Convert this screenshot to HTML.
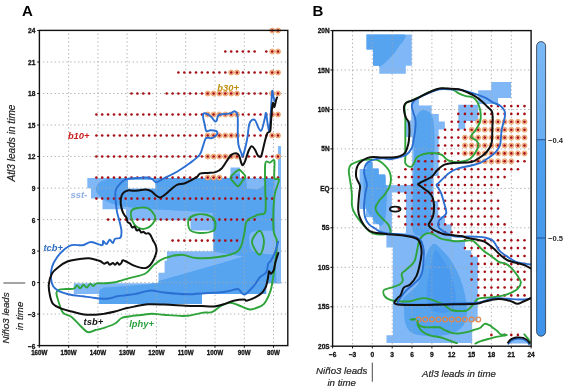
<!DOCTYPE html>
<html><head><meta charset="utf-8"><style>
html,body{margin:0;padding:0;background:#fff;}
svg{display:block;will-change:transform;}
</style></head><body>
<svg width="575" height="392" viewBox="0 0 575 392">
<defs><clipPath id="cA"><rect x="39.4" y="30.4" width="248.4" height="315.2"/></clipPath><clipPath id="cB"><rect x="332.6" y="30.6" width="198.5" height="315.6"/></clipPath></defs>
<clipPath id="cAL"><path d="M87.3,178.0 L230.5,178.0 L230.5,167.4 L240.0,167.4 L240.0,178.0 L278.0,178.0 L278.0,146.3 L281.0,146.3 L281.0,283.3 L266.2,283.3 L266.2,294.1 L202.0,294.1 L202.0,303.9 L98.8,303.9 L98.8,294.1 L73.8,294.1 L73.8,283.3 L158.5,283.3 L158.5,272.7 L164.6,272.7 L164.6,260.5 L167.0,260.5 L167.0,251.2 L213.5,251.2 L213.5,230.6 L190.5,230.6 L190.5,220.3 L126.0,220.3 L126.0,209.3 L102.5,209.3 L102.5,198.6 L91.0,198.6 L91.0,188.2 L87.3,188.2 Z" fill="#000" /></clipPath>
<path d="M87.3,178.0 L230.5,178.0 L230.5,167.4 L240.0,167.4 L240.0,178.0 L278.0,178.0 L278.0,146.3 L281.0,146.3 L281.0,283.3 L266.2,283.3 L266.2,294.1 L202.0,294.1 L202.0,303.9 L98.8,303.9 L98.8,294.1 L73.8,294.1 L73.8,283.3 L158.5,283.3 L158.5,272.7 L164.6,272.7 L164.6,260.5 L167.0,260.5 L167.0,251.2 L213.5,251.2 L213.5,230.6 L190.5,230.6 L190.5,220.3 L126.0,220.3 L126.0,209.3 L102.5,209.3 L102.5,198.6 L91.0,198.6 L91.0,188.2 L87.3,188.2 Z" fill="#80b8f7" />
<g clip-path="url(#cAL)"><path d="M95.7,188.6 C95.8,187.2 96.6,185.7 97.5,184.5 C98.4,183.3 99.4,182.4 101.0,181.5 C102.6,180.6 104.5,179.8 107.0,179.3 C109.5,178.8 110.5,178.9 116.0,178.3 C121.5,177.8 126.0,176.4 140.0,176.0 C154.0,175.6 176.3,176.0 200.0,176.0 C223.7,176.0 268.3,169.5 282.0,176.0 C295.7,182.5 289.0,208.7 282.0,215.0 C275.0,221.3 251.5,214.3 240.0,214.0 C228.5,213.7 220.5,213.4 213.0,213.0 C205.5,212.6 201.3,211.9 195.0,211.5 C188.7,211.1 182.5,210.9 175.0,210.5 C167.5,210.1 157.0,209.8 150.0,209.3 C143.0,208.9 138.3,208.4 133.0,207.8 C127.7,207.2 122.2,206.5 118.0,205.5 C113.8,204.5 110.8,203.3 108.0,202.0 C105.2,200.7 102.8,199.0 101.0,197.5 C99.2,196.0 97.9,194.5 97.0,193.0 C96.1,191.5 95.6,190.0 95.7,188.6 Z" fill="#56a3f0" /><path d="M213.0,205.0 L282.0,205.0 L282.0,310.0 L99.0,310.0 L99.5,290.0 L104.0,287.5 L130.0,285.8 L150.0,284.0 L160.0,280.5 L190.0,272.0 L220.0,263.5 L243.0,256.5 L213.0,251.5 Z" fill="#56a3f0" /><path d="M246.0,178.0 L262.0,178.0 L266.0,184.0 L258.0,189.5 L247.0,188.5 Z" fill="#80b8f7" /><path d="M274.5,146.0 L282.0,146.0 L282.0,284.0 L276.5,284.0 L275.5,250.0 L274.8,200.0 Z" fill="#80b8f7" /><path d="M250.0,234.0 C251.7,230.8 257.7,231.2 262.0,231.0 C266.3,230.8 273.7,229.5 276.0,233.0 C278.3,236.5 277.7,248.5 276.0,252.0 C274.3,255.5 270.0,254.3 266.0,254.0 C262.0,253.7 254.7,253.3 252.0,250.0 C249.3,246.7 248.3,237.2 250.0,234.0 Z" fill="#80b8f7" /></g>
<rect x="128" y="179.8" width="27.3" height="8.8" fill="#fff"/>
<path d="M68.6,33.6 V345 M97.9,33.6 V345 M127.1,33.6 V345 M156.4,33.6 V345 M185.7,33.6 V345 M215.0,33.6 V345 M244.3,33.6 V345 M273.5,33.6 V345 M42.95,62.0 H287 M42.95,93.5 H287 M42.95,125.0 H287 M42.95,156.5 H287 M42.95,188.1 H287 M42.95,219.6 H287 M42.95,251.1 H287 M42.95,282.6 H287 M42.95,314.1 H287" stroke="#a8a8a8" stroke-width="0.9" stroke-dasharray="1.3 2.6" fill="none"/>
<g fill="#f7c6a0" stroke="#e9975c" stroke-width="0.8"><circle cx="272.2" cy="30.5" r="2.5"/><circle cx="278.0" cy="30.5" r="2.5"/><circle cx="272.2" cy="51.5" r="2.5"/><circle cx="278.0" cy="51.5" r="2.5"/><circle cx="231.2" cy="72.5" r="2.5"/><circle cx="237.0" cy="72.5" r="2.5"/><circle cx="272.2" cy="72.5" r="2.5"/><circle cx="278.0" cy="72.5" r="2.5"/><circle cx="207.7" cy="93.5" r="2.5"/><circle cx="213.6" cy="93.5" r="2.5"/><circle cx="219.4" cy="93.5" r="2.5"/><circle cx="225.3" cy="93.5" r="2.5"/><circle cx="231.2" cy="93.5" r="2.5"/><circle cx="237.0" cy="93.5" r="2.5"/><circle cx="272.2" cy="93.5" r="2.5"/><circle cx="278.0" cy="93.5" r="2.5"/><circle cx="207.7" cy="114.5" r="2.5"/><circle cx="213.6" cy="114.5" r="2.5"/><circle cx="219.4" cy="114.5" r="2.5"/><circle cx="225.3" cy="114.5" r="2.5"/><circle cx="231.2" cy="114.5" r="2.5"/><circle cx="237.0" cy="114.5" r="2.5"/><circle cx="272.2" cy="114.5" r="2.5"/><circle cx="278.0" cy="114.5" r="2.5"/><circle cx="207.7" cy="135.5" r="2.5"/><circle cx="213.6" cy="135.5" r="2.5"/><circle cx="219.4" cy="135.5" r="2.5"/><circle cx="225.3" cy="135.5" r="2.5"/><circle cx="231.2" cy="135.5" r="2.5"/><circle cx="237.0" cy="135.5" r="2.5"/><circle cx="272.2" cy="135.5" r="2.5"/><circle cx="278.0" cy="135.5" r="2.5"/><circle cx="207.7" cy="156.5" r="2.5"/><circle cx="213.6" cy="156.5" r="2.5"/><circle cx="219.4" cy="156.5" r="2.5"/><circle cx="225.3" cy="156.5" r="2.5"/><circle cx="231.2" cy="156.5" r="2.5"/><circle cx="237.0" cy="156.5" r="2.5"/><circle cx="278.0" cy="156.5" r="2.5"/><circle cx="207.7" cy="177.6" r="2.5"/><circle cx="213.6" cy="177.6" r="2.5"/><circle cx="219.4" cy="177.6" r="2.5"/></g>
<g fill="#a60c14"><circle cx="272.2" cy="30.5" r="1.3"/><circle cx="278.0" cy="30.5" r="1.3"/><circle cx="225.3" cy="51.5" r="1.3"/><circle cx="231.2" cy="51.5" r="1.3"/><circle cx="237.0" cy="51.5" r="1.3"/><circle cx="242.9" cy="51.5" r="1.3"/><circle cx="248.7" cy="51.5" r="1.3"/><circle cx="254.6" cy="51.5" r="1.3"/><circle cx="266.3" cy="51.5" r="1.3"/><circle cx="272.2" cy="51.5" r="1.3"/><circle cx="278.0" cy="51.5" r="1.3"/><circle cx="178.4" cy="72.5" r="1.3"/><circle cx="184.3" cy="72.5" r="1.3"/><circle cx="190.1" cy="72.5" r="1.3"/><circle cx="196.0" cy="72.5" r="1.3"/><circle cx="201.9" cy="72.5" r="1.3"/><circle cx="207.7" cy="72.5" r="1.3"/><circle cx="213.6" cy="72.5" r="1.3"/><circle cx="219.4" cy="72.5" r="1.3"/><circle cx="225.3" cy="72.5" r="1.3"/><circle cx="231.2" cy="72.5" r="1.3"/><circle cx="237.0" cy="72.5" r="1.3"/><circle cx="242.9" cy="72.5" r="1.3"/><circle cx="248.7" cy="72.5" r="1.3"/><circle cx="254.6" cy="72.5" r="1.3"/><circle cx="260.5" cy="72.5" r="1.3"/><circle cx="266.3" cy="72.5" r="1.3"/><circle cx="272.2" cy="72.5" r="1.3"/><circle cx="278.0" cy="72.5" r="1.3"/><circle cx="131.5" cy="93.5" r="1.3"/><circle cx="137.4" cy="93.5" r="1.3"/><circle cx="143.3" cy="93.5" r="1.3"/><circle cx="149.1" cy="93.5" r="1.3"/><circle cx="166.7" cy="93.5" r="1.3"/><circle cx="172.6" cy="93.5" r="1.3"/><circle cx="178.4" cy="93.5" r="1.3"/><circle cx="184.3" cy="93.5" r="1.3"/><circle cx="190.1" cy="93.5" r="1.3"/><circle cx="196.0" cy="93.5" r="1.3"/><circle cx="201.9" cy="93.5" r="1.3"/><circle cx="207.7" cy="93.5" r="1.3"/><circle cx="213.6" cy="93.5" r="1.3"/><circle cx="219.4" cy="93.5" r="1.3"/><circle cx="225.3" cy="93.5" r="1.3"/><circle cx="231.2" cy="93.5" r="1.3"/><circle cx="237.0" cy="93.5" r="1.3"/><circle cx="242.9" cy="93.5" r="1.3"/><circle cx="248.7" cy="93.5" r="1.3"/><circle cx="254.6" cy="93.5" r="1.3"/><circle cx="260.5" cy="93.5" r="1.3"/><circle cx="266.3" cy="93.5" r="1.3"/><circle cx="272.2" cy="93.5" r="1.3"/><circle cx="278.0" cy="93.5" r="1.3"/><circle cx="96.4" cy="114.5" r="1.3"/><circle cx="102.2" cy="114.5" r="1.3"/><circle cx="108.1" cy="114.5" r="1.3"/><circle cx="114.0" cy="114.5" r="1.3"/><circle cx="119.8" cy="114.5" r="1.3"/><circle cx="125.7" cy="114.5" r="1.3"/><circle cx="131.5" cy="114.5" r="1.3"/><circle cx="137.4" cy="114.5" r="1.3"/><circle cx="143.3" cy="114.5" r="1.3"/><circle cx="149.1" cy="114.5" r="1.3"/><circle cx="155.0" cy="114.5" r="1.3"/><circle cx="160.8" cy="114.5" r="1.3"/><circle cx="166.7" cy="114.5" r="1.3"/><circle cx="172.6" cy="114.5" r="1.3"/><circle cx="178.4" cy="114.5" r="1.3"/><circle cx="184.3" cy="114.5" r="1.3"/><circle cx="190.1" cy="114.5" r="1.3"/><circle cx="196.0" cy="114.5" r="1.3"/><circle cx="201.9" cy="114.5" r="1.3"/><circle cx="207.7" cy="114.5" r="1.3"/><circle cx="213.6" cy="114.5" r="1.3"/><circle cx="219.4" cy="114.5" r="1.3"/><circle cx="225.3" cy="114.5" r="1.3"/><circle cx="231.2" cy="114.5" r="1.3"/><circle cx="237.0" cy="114.5" r="1.3"/><circle cx="242.9" cy="114.5" r="1.3"/><circle cx="248.7" cy="114.5" r="1.3"/><circle cx="254.6" cy="114.5" r="1.3"/><circle cx="260.5" cy="114.5" r="1.3"/><circle cx="266.3" cy="114.5" r="1.3"/><circle cx="272.2" cy="114.5" r="1.3"/><circle cx="278.0" cy="114.5" r="1.3"/><circle cx="96.4" cy="135.5" r="1.3"/><circle cx="102.2" cy="135.5" r="1.3"/><circle cx="108.1" cy="135.5" r="1.3"/><circle cx="114.0" cy="135.5" r="1.3"/><circle cx="119.8" cy="135.5" r="1.3"/><circle cx="125.7" cy="135.5" r="1.3"/><circle cx="131.5" cy="135.5" r="1.3"/><circle cx="137.4" cy="135.5" r="1.3"/><circle cx="143.3" cy="135.5" r="1.3"/><circle cx="149.1" cy="135.5" r="1.3"/><circle cx="155.0" cy="135.5" r="1.3"/><circle cx="160.8" cy="135.5" r="1.3"/><circle cx="166.7" cy="135.5" r="1.3"/><circle cx="172.6" cy="135.5" r="1.3"/><circle cx="178.4" cy="135.5" r="1.3"/><circle cx="184.3" cy="135.5" r="1.3"/><circle cx="190.1" cy="135.5" r="1.3"/><circle cx="196.0" cy="135.5" r="1.3"/><circle cx="201.9" cy="135.5" r="1.3"/><circle cx="207.7" cy="135.5" r="1.3"/><circle cx="213.6" cy="135.5" r="1.3"/><circle cx="219.4" cy="135.5" r="1.3"/><circle cx="225.3" cy="135.5" r="1.3"/><circle cx="231.2" cy="135.5" r="1.3"/><circle cx="237.0" cy="135.5" r="1.3"/><circle cx="242.9" cy="135.5" r="1.3"/><circle cx="248.7" cy="135.5" r="1.3"/><circle cx="254.6" cy="135.5" r="1.3"/><circle cx="260.5" cy="135.5" r="1.3"/><circle cx="266.3" cy="135.5" r="1.3"/><circle cx="272.2" cy="135.5" r="1.3"/><circle cx="278.0" cy="135.5" r="1.3"/><circle cx="96.4" cy="156.5" r="1.3"/><circle cx="102.2" cy="156.5" r="1.3"/><circle cx="108.1" cy="156.5" r="1.3"/><circle cx="114.0" cy="156.5" r="1.3"/><circle cx="119.8" cy="156.5" r="1.3"/><circle cx="125.7" cy="156.5" r="1.3"/><circle cx="131.5" cy="156.5" r="1.3"/><circle cx="137.4" cy="156.5" r="1.3"/><circle cx="143.3" cy="156.5" r="1.3"/><circle cx="149.1" cy="156.5" r="1.3"/><circle cx="155.0" cy="156.5" r="1.3"/><circle cx="160.8" cy="156.5" r="1.3"/><circle cx="166.7" cy="156.5" r="1.3"/><circle cx="172.6" cy="156.5" r="1.3"/><circle cx="178.4" cy="156.5" r="1.3"/><circle cx="184.3" cy="156.5" r="1.3"/><circle cx="190.1" cy="156.5" r="1.3"/><circle cx="196.0" cy="156.5" r="1.3"/><circle cx="201.9" cy="156.5" r="1.3"/><circle cx="207.7" cy="156.5" r="1.3"/><circle cx="213.6" cy="156.5" r="1.3"/><circle cx="219.4" cy="156.5" r="1.3"/><circle cx="225.3" cy="156.5" r="1.3"/><circle cx="231.2" cy="156.5" r="1.3"/><circle cx="237.0" cy="156.5" r="1.3"/><circle cx="242.9" cy="156.5" r="1.3"/><circle cx="248.7" cy="156.5" r="1.3"/><circle cx="254.6" cy="156.5" r="1.3"/><circle cx="260.5" cy="156.5" r="1.3"/><circle cx="266.3" cy="156.5" r="1.3"/><circle cx="272.2" cy="156.5" r="1.3"/><circle cx="278.0" cy="156.5" r="1.3"/><circle cx="96.4" cy="177.6" r="1.3"/><circle cx="102.2" cy="177.6" r="1.3"/><circle cx="108.1" cy="177.6" r="1.3"/><circle cx="114.0" cy="177.6" r="1.3"/><circle cx="119.8" cy="177.6" r="1.3"/><circle cx="125.7" cy="177.6" r="1.3"/><circle cx="131.5" cy="177.6" r="1.3"/><circle cx="137.4" cy="177.6" r="1.3"/><circle cx="143.3" cy="177.6" r="1.3"/><circle cx="149.1" cy="177.6" r="1.3"/><circle cx="155.0" cy="177.6" r="1.3"/><circle cx="160.8" cy="177.6" r="1.3"/><circle cx="166.7" cy="177.6" r="1.3"/><circle cx="172.6" cy="177.6" r="1.3"/><circle cx="178.4" cy="177.6" r="1.3"/><circle cx="184.3" cy="177.6" r="1.3"/><circle cx="190.1" cy="177.6" r="1.3"/><circle cx="196.0" cy="177.6" r="1.3"/><circle cx="201.9" cy="177.6" r="1.3"/><circle cx="207.7" cy="177.6" r="1.3"/><circle cx="213.6" cy="177.6" r="1.3"/><circle cx="219.4" cy="177.6" r="1.3"/><circle cx="225.3" cy="177.6" r="1.3"/><circle cx="231.2" cy="177.6" r="1.3"/><circle cx="237.0" cy="177.6" r="1.3"/><circle cx="242.9" cy="177.6" r="1.3"/><circle cx="248.7" cy="177.6" r="1.3"/><circle cx="254.6" cy="177.6" r="1.3"/><circle cx="260.5" cy="177.6" r="1.3"/><circle cx="266.3" cy="177.6" r="1.3"/><circle cx="272.2" cy="177.6" r="1.3"/><circle cx="278.0" cy="177.6" r="1.3"/><circle cx="96.4" cy="198.6" r="1.3"/><circle cx="102.2" cy="198.6" r="1.3"/><circle cx="108.1" cy="198.6" r="1.3"/><circle cx="114.0" cy="198.6" r="1.3"/><circle cx="119.8" cy="198.6" r="1.3"/><circle cx="125.7" cy="198.6" r="1.3"/><circle cx="131.5" cy="198.6" r="1.3"/><circle cx="137.4" cy="198.6" r="1.3"/><circle cx="143.3" cy="198.6" r="1.3"/><circle cx="149.1" cy="198.6" r="1.3"/><circle cx="155.0" cy="198.6" r="1.3"/><circle cx="160.8" cy="198.6" r="1.3"/><circle cx="166.7" cy="198.6" r="1.3"/><circle cx="172.6" cy="198.6" r="1.3"/><circle cx="178.4" cy="198.6" r="1.3"/><circle cx="184.3" cy="198.6" r="1.3"/><circle cx="190.1" cy="198.6" r="1.3"/><circle cx="196.0" cy="198.6" r="1.3"/><circle cx="201.9" cy="198.6" r="1.3"/><circle cx="207.7" cy="198.6" r="1.3"/><circle cx="213.6" cy="198.6" r="1.3"/><circle cx="219.4" cy="198.6" r="1.3"/><circle cx="225.3" cy="198.6" r="1.3"/><circle cx="231.2" cy="198.6" r="1.3"/><circle cx="237.0" cy="198.6" r="1.3"/><circle cx="242.9" cy="198.6" r="1.3"/><circle cx="248.7" cy="198.6" r="1.3"/><circle cx="254.6" cy="198.6" r="1.3"/><circle cx="260.5" cy="198.6" r="1.3"/><circle cx="266.3" cy="198.6" r="1.3"/><circle cx="272.2" cy="198.6" r="1.3"/><circle cx="108.1" cy="219.6" r="1.3"/><circle cx="114.0" cy="219.6" r="1.3"/><circle cx="119.8" cy="219.6" r="1.3"/><circle cx="125.7" cy="219.6" r="1.3"/><circle cx="131.5" cy="219.6" r="1.3"/><circle cx="137.4" cy="219.6" r="1.3"/><circle cx="143.3" cy="219.6" r="1.3"/><circle cx="149.1" cy="219.6" r="1.3"/><circle cx="155.0" cy="219.6" r="1.3"/><circle cx="160.8" cy="219.6" r="1.3"/><circle cx="166.7" cy="219.6" r="1.3"/><circle cx="172.6" cy="219.6" r="1.3"/><circle cx="178.4" cy="219.6" r="1.3"/><circle cx="184.3" cy="219.6" r="1.3"/><circle cx="190.1" cy="219.6" r="1.3"/><circle cx="196.0" cy="219.6" r="1.3"/><circle cx="201.9" cy="219.6" r="1.3"/><circle cx="207.7" cy="219.6" r="1.3"/><circle cx="213.6" cy="219.6" r="1.3"/><circle cx="219.4" cy="219.6" r="1.3"/><circle cx="225.3" cy="219.6" r="1.3"/><circle cx="231.2" cy="219.6" r="1.3"/><circle cx="237.0" cy="219.6" r="1.3"/><circle cx="242.9" cy="219.6" r="1.3"/><circle cx="248.7" cy="219.6" r="1.3"/><circle cx="254.6" cy="219.6" r="1.3"/><circle cx="272.2" cy="219.6" r="1.3"/><circle cx="172.6" cy="240.6" r="1.3"/><circle cx="178.4" cy="240.6" r="1.3"/><circle cx="184.3" cy="240.6" r="1.3"/><circle cx="190.1" cy="240.6" r="1.3"/><circle cx="196.0" cy="240.6" r="1.3"/><circle cx="201.9" cy="240.6" r="1.3"/><circle cx="207.7" cy="240.6" r="1.3"/><circle cx="213.6" cy="240.6" r="1.3"/><circle cx="219.4" cy="240.6" r="1.3"/><circle cx="225.3" cy="240.6" r="1.3"/><circle cx="231.2" cy="240.6" r="1.3"/><circle cx="237.0" cy="240.6" r="1.3"/></g>
<g clip-path="url(#cA)">
<path d="M272.7,280.0 C271.9,284.3 271.9,286.9 270.5,290.9 C269.1,294.9 266.5,301.0 264.0,303.9 C261.5,306.8 257.8,307.4 255.3,308.3 C252.8,309.2 251.7,309.9 248.8,309.3 C245.9,308.8 241.2,306.1 237.9,305.0 C234.6,303.9 232.1,302.6 229.2,302.8 C226.3,303.0 223.4,304.5 220.5,306.1 C217.6,307.7 214.7,311.1 211.8,312.2 C208.9,313.3 207.4,312.0 203.1,312.6 C198.8,313.2 192.2,315.5 185.7,315.9 C179.2,316.3 169.6,315.2 164.0,314.8 C158.4,314.4 155.4,313.7 152.0,313.7 C148.6,313.7 146.6,314.4 143.3,314.8 C140.1,315.2 136.1,315.4 132.5,315.9 C128.9,316.4 124.5,316.7 121.6,318.0 C118.7,319.3 118.0,321.9 115.1,323.5 C112.2,325.1 107.5,326.7 104.2,327.8 C100.9,328.9 98.2,329.3 95.5,330.0 C92.8,330.7 90.4,332.9 87.9,332.2 C85.4,331.5 83.0,328.2 80.3,325.7 C77.6,323.2 74.5,319.2 71.6,317.0 C68.7,314.8 65.1,315.2 62.9,312.6 C60.7,310.1 59.7,305.0 58.6,301.7 C57.5,298.4 56.4,295.0 56.4,293.0 C56.4,291.0 57.0,290.5 58.6,289.8 C60.2,289.1 63.5,289.2 66.0,289.0 C68.5,288.8 72.0,289.3 73.8,288.7 C75.6,288.1 75.9,285.5 77.0,285.4 C78.1,285.3 79.2,288.4 80.3,288.3 C81.4,288.2 82.5,284.9 83.6,284.8 C84.7,284.7 85.7,287.8 86.8,287.6 C87.9,287.5 89.0,284.1 90.1,283.9 C91.2,283.6 92.2,286.2 93.3,286.1 C94.4,286.0 94.8,283.8 96.6,283.3 C98.4,282.8 101.1,283.5 104.2,283.3 C107.3,283.1 110.8,283.1 115.1,282.2 C119.4,281.3 125.2,279.2 130.3,277.8 C135.4,276.4 141.5,275.7 145.5,273.5 C149.5,271.3 151.1,267.3 154.2,264.8 C157.3,262.3 159.5,260.0 164.0,258.3 C168.5,256.6 176.0,254.9 181.4,254.8 C186.8,254.8 190.4,257.6 196.6,258.0 C202.8,258.4 211.8,257.9 218.3,257.0 C224.8,256.1 231.9,254.4 235.7,252.6 C239.5,250.8 239.8,249.3 241.2,246.0 C242.6,242.7 243.4,237.2 244.4,233.0 C245.4,228.8 244.7,224.1 247.0,221.0 C249.3,217.9 254.9,216.2 258.0,214.7 C261.1,213.2 264.1,216.1 265.3,212.0 C266.5,207.9 265.3,198.1 265.3,190.0 C265.3,181.9 264.5,168.2 265.3,163.6 C266.1,159.0 268.4,163.1 269.9,162.7 C271.4,162.2 273.6,158.3 274.4,160.9 C275.1,163.5 273.6,174.8 274.4,178.0 C275.2,181.2 279.0,176.9 279.0,180.0 C279.0,183.1 275.3,188.2 274.4,196.5 C273.5,204.8 273.1,222.5 273.5,230.0 C273.9,237.5 276.8,235.9 277.0,241.7 C277.2,247.5 275.7,258.6 275.0,265.0 C274.3,271.4 273.4,275.7 272.7,280.0 Z" fill="none" stroke="#2ea43a" stroke-width="1.9" stroke-linejoin="round" stroke-linecap="round" />
<path d="M230.5,177.6 C230.7,175.9 233.6,173.8 235.0,172.5 C236.4,171.2 237.8,169.7 239.1,169.7 C240.3,169.7 241.4,171.3 242.5,172.5 C243.6,173.7 245.5,175.3 245.4,176.8 C245.3,178.3 243.2,179.9 242.0,181.5 C240.8,183.1 239.6,186.0 238.3,186.2 C237.0,186.4 235.3,183.9 234.0,182.5 C232.7,181.1 230.3,179.3 230.5,177.6 Z" fill="none" stroke="#2ea43a" stroke-width="1.9" stroke-linejoin="round" stroke-linecap="round" />
<path d="M131.4,210.9 C132.4,208.8 135.9,208.4 138.6,207.9 C141.3,207.4 144.8,206.9 147.5,208.2 C150.2,209.4 153.4,213.3 154.6,215.4 C155.8,217.5 155.8,218.6 154.6,220.7 C153.4,222.8 150.2,226.7 147.5,227.9 C144.8,229.1 141.1,229.1 138.6,227.9 C136.1,226.7 133.5,223.5 132.3,220.7 C131.1,217.9 130.4,213.0 131.4,210.9 Z" fill="none" stroke="#2ea43a" stroke-width="1.9" stroke-linejoin="round" stroke-linecap="round" />
<path d="M188.5,220.0 C189.3,217.5 192.2,215.9 195.0,215.0 C197.8,214.1 202.0,214.0 205.0,214.5 C208.0,215.0 211.2,216.2 213.0,218.0 C214.8,219.8 215.5,222.8 215.5,225.0 C215.5,227.2 215.6,229.7 213.0,231.0 C210.4,232.3 203.8,233.2 200.0,233.0 C196.2,232.8 191.9,232.2 190.0,230.0 C188.1,227.8 187.7,222.5 188.5,220.0 Z" fill="none" stroke="#2ea43a" stroke-width="1.9" stroke-linejoin="round" stroke-linecap="round" />
<path d="M259.7,230.9 C261.7,230.9 264.0,237.7 264.0,241.7 C264.0,245.7 261.7,254.8 259.7,254.8 C257.7,254.8 252.0,245.7 252.0,241.7 C252.0,237.7 257.7,230.9 259.7,230.9 Z" fill="none" stroke="#2ea43a" stroke-width="1.9" stroke-linejoin="round" stroke-linecap="round" />
<path d="M274.6,101.0 C274.4,100.2 273.8,98.2 273.4,96.5 C273.0,94.8 272.6,90.4 272.3,90.8 C272.0,91.2 271.9,94.5 271.6,98.8 C271.3,103.1 271.0,111.3 270.6,116.7 C270.2,122.1 269.8,130.0 269.3,131.0 C268.8,132.0 268.1,125.8 267.5,122.8 C266.9,119.8 266.5,113.4 266.0,112.9 C265.5,112.4 265.3,116.9 264.5,119.8 C263.7,122.7 262.4,129.2 261.4,130.5 C260.4,131.8 259.3,129.1 258.3,127.4 C257.3,125.7 256.3,121.8 255.3,120.5 C254.3,119.2 253.2,119.2 252.2,119.8 C251.2,120.4 250.1,120.9 249.2,124.3 C248.3,127.7 248.1,134.7 247.0,140.0 C245.9,145.3 243.8,153.8 242.8,156.0 C241.9,158.2 242.0,154.8 241.3,153.0 C240.6,151.2 239.1,148.3 238.5,145.0 C237.9,141.7 237.9,137.4 237.8,133.1 C237.7,128.8 237.9,122.3 237.8,119.0 C237.7,115.7 237.7,114.7 237.1,113.4 C236.5,112.1 235.5,111.3 234.3,111.3 C233.1,111.3 232.0,112.9 230.1,113.4 C228.2,113.9 225.1,113.8 223.1,114.1 C221.1,114.4 219.2,114.5 218.2,115.5 C217.1,116.5 217.4,119.5 216.8,120.4 C216.2,121.4 215.6,121.8 214.7,121.2 C213.8,120.6 212.4,118.1 211.2,116.9 C210.0,115.7 208.8,114.7 207.6,114.1 C206.4,113.5 204.9,113.1 204.1,113.2 C203.3,113.3 203.1,113.5 203.0,114.5 C202.9,115.5 203.1,117.3 203.4,119.0 C203.7,120.7 204.3,122.7 204.8,124.7 C205.3,126.7 205.3,130.1 206.2,131.0 C207.1,131.9 208.8,130.3 210.4,130.3 C212.1,130.3 214.9,130.5 216.1,131.0 C217.3,131.5 217.5,132.3 217.5,133.1 C217.5,133.8 217.0,134.7 216.1,135.5 C215.2,136.3 213.2,137.8 211.9,138.2 C210.6,138.6 209.4,137.7 208.3,137.8 C207.2,137.9 206.4,137.1 205.5,138.7 C204.6,140.2 203.7,144.4 202.7,147.1 C201.7,149.8 201.6,152.3 199.5,155.0 C197.4,157.7 193.8,160.2 190.0,163.0 C186.2,165.8 181.3,169.1 177.0,171.7 C172.7,174.2 167.4,176.5 164.0,178.3 C160.6,180.1 158.2,182.1 156.4,182.3 C154.6,182.5 154.4,180.4 152.9,179.6 C151.4,178.8 149.9,177.8 147.5,177.5 C145.1,177.2 141.9,177.7 138.6,177.9 C135.3,178.1 130.4,178.3 127.9,178.8 C125.4,179.2 124.7,179.6 123.4,180.5 C122.1,181.4 121.1,182.6 119.9,184.0 C118.7,185.4 116.9,187.3 116.1,189.2 C115.3,191.1 115.2,191.7 115.3,195.3 C115.4,198.9 116.2,206.5 116.8,210.6 C117.4,214.7 118.3,216.5 119.1,219.8 C119.9,223.1 121.2,227.5 121.4,230.5 C121.6,233.5 121.5,236.2 120.5,237.6 C119.5,239.0 116.4,237.8 115.1,238.7 C113.8,239.6 113.8,242.8 112.9,243.0 C112.0,243.2 110.8,239.6 109.7,239.8 C108.6,240.0 107.5,243.9 106.4,244.1 C105.3,244.3 103.8,240.7 103.1,240.9 C102.4,241.1 104.0,245.0 102.0,245.2 C100.0,245.4 94.5,242.0 91.2,242.0 C88.0,242.0 85.8,244.7 82.5,245.2 C79.2,245.7 74.9,244.3 71.6,245.2 C68.3,246.1 65.4,248.5 62.9,250.7 C60.4,252.9 58.2,255.6 56.4,258.3 C54.6,261.0 52.9,263.8 52.0,267.0 C51.1,270.2 50.8,274.6 51.0,277.8 C51.2,281.0 51.7,283.8 53.0,286.0 C54.3,288.2 56.2,289.6 58.6,290.9 C61.0,292.2 64.8,293.3 67.3,294.0 C69.8,294.7 71.3,294.8 73.8,295.2 C76.3,295.6 79.6,295.9 82.5,296.3 C85.4,296.7 88.3,297.0 91.2,297.4 C94.1,297.8 97.0,298.3 99.9,298.5 C102.8,298.7 105.7,298.9 108.6,298.5 C111.5,298.1 114.4,296.9 117.3,296.3 C120.2,295.8 123.1,295.6 126.0,295.2 C128.9,294.8 131.8,294.6 134.7,294.1 C137.6,293.6 140.4,292.6 143.3,292.0 C146.2,291.4 148.6,290.4 152.0,290.5 C155.4,290.6 158.4,291.9 164.0,292.5 C169.6,293.1 178.4,294.2 185.7,294.3 C192.9,294.4 202.1,293.3 207.5,293.0 C212.9,292.7 214.7,292.8 218.3,292.5 C221.9,292.2 225.9,291.6 229.2,291.0 C232.5,290.4 235.7,288.6 237.9,289.0 C240.1,289.4 241.0,292.6 242.3,293.5 C243.6,294.4 244.1,294.9 245.5,294.1 C246.9,293.4 249.4,290.7 251.0,289.0 C252.6,287.3 253.9,285.9 255.3,284.0 C256.8,282.1 257.9,279.5 259.7,277.5 C261.5,275.5 264.8,274.5 266.2,272.2 C267.6,269.9 267.6,265.3 268.3,263.5 C269.0,261.7 269.4,263.1 270.5,261.3 C271.6,259.5 273.6,255.9 274.9,252.6 C276.2,249.3 277.6,243.5 278.1,241.7" fill="none" stroke="#2b6fd3" stroke-width="1.9" stroke-linejoin="round" stroke-linecap="round" />
<path d="M277.0,97.5 C276.8,98.0 276.4,98.9 276.0,100.5 C275.6,102.1 274.9,106.6 274.4,107.0 C273.9,107.4 273.4,102.7 273.0,102.8 C272.6,102.9 272.4,105.5 272.1,107.5 C271.9,109.5 271.7,112.6 271.5,115.0 C271.3,117.4 271.2,119.3 271.0,122.0 C270.8,124.7 270.8,129.2 270.2,131.0 C269.6,132.8 268.3,131.5 267.5,133.0 C266.7,134.5 266.0,137.0 265.2,140.0 C264.4,143.0 263.3,148.3 262.6,151.0 C261.9,153.7 261.8,155.6 261.0,156.4 C260.2,157.2 258.9,156.8 257.9,155.6 C256.9,154.4 255.9,150.9 254.8,149.4 C253.8,147.9 252.7,146.0 251.6,146.3 C250.5,146.6 249.5,148.7 248.5,151.0 C247.5,153.3 246.3,158.0 245.4,160.3 C244.5,162.6 243.7,164.5 243.0,165.0 C242.3,165.5 242.2,165.1 241.5,163.5 C240.8,161.9 240.0,157.3 239.1,155.6 C238.2,153.9 237.3,153.4 236.0,153.3 C234.7,153.2 232.6,154.0 231.3,154.9 C230.0,155.8 229.8,156.6 228.2,158.8 C226.6,161.0 224.0,166.0 221.9,168.2 C219.8,170.4 217.9,171.3 215.6,172.1 C213.2,172.9 210.4,172.7 207.8,172.9 C205.2,173.2 201.9,172.9 200.0,173.6 C198.1,174.3 199.1,175.6 196.6,177.2 C194.1,178.8 188.3,181.9 185.0,183.2 C181.7,184.5 179.7,183.5 177.0,184.8 C174.3,186.1 171.1,189.4 168.9,191.2 C166.7,193.1 165.1,194.7 163.6,195.7 C162.1,196.7 161.2,197.5 160.0,197.5 C158.8,197.5 157.9,196.7 156.4,195.7 C154.9,194.7 152.9,192.3 151.1,191.2 C149.3,190.2 147.8,189.6 145.7,189.5 C143.6,189.4 140.7,190.2 138.6,190.4 C136.5,190.6 135.0,190.7 133.2,190.7 C131.4,190.7 129.4,190.2 127.9,190.4 C126.4,190.6 125.3,191.2 124.3,192.1 C123.2,193.0 122.2,193.9 121.6,195.7 C121.0,197.5 120.6,200.4 120.7,202.9 C120.8,205.4 121.6,208.6 122.2,210.6 C122.8,212.6 123.7,213.9 124.5,215.2 C125.3,216.5 126.3,217.2 126.8,218.3 C127.3,219.5 127.1,221.2 127.6,222.1 C128.1,223.0 129.2,222.6 130.0,223.5 C130.8,224.4 131.4,227.0 132.2,227.5 C132.9,228.0 133.7,226.0 134.5,226.5 C135.3,227.0 136.0,230.0 136.8,230.5 C137.6,231.0 138.5,229.1 139.2,229.4 C139.9,229.7 140.3,232.1 141.0,232.5 C141.7,232.9 142.7,231.6 143.5,231.8 C144.3,232.0 145.1,233.4 145.9,233.6 C146.7,233.8 147.7,232.9 148.5,233.2 C149.3,233.4 149.8,234.0 150.5,235.1 C151.2,236.2 152.0,238.3 152.8,240.0 C153.6,241.7 154.9,243.1 155.5,245.0 C156.1,246.9 157.0,248.8 156.4,251.7 C155.8,254.6 153.8,259.9 152.0,262.6 C150.2,265.3 148.4,267.4 145.5,268.0 C142.6,268.6 138.3,267.2 134.7,265.9 C131.1,264.6 126.0,260.9 123.8,260.4 C121.6,259.8 122.3,261.9 121.6,262.6 C120.9,263.3 120.1,264.8 119.4,264.8 C118.7,264.8 118.0,262.6 117.3,262.6 C116.6,262.6 115.8,264.7 115.1,264.8 C114.4,264.9 113.8,263.0 112.9,263.0 C112.0,263.0 110.6,264.9 109.7,264.8 C108.8,264.7 108.4,262.4 107.5,262.2 C106.6,262.0 105.3,263.8 104.2,263.7 C103.1,263.6 102.1,262.1 101.0,261.5 C99.9,260.9 99.7,260.9 97.7,260.4 C95.7,259.9 92.3,258.5 89.0,258.3 C85.7,258.1 81.7,258.8 78.1,259.3 C74.5,259.8 70.5,260.2 67.3,261.5 C64.0,262.8 61.1,265.0 58.6,267.0 C56.1,269.0 53.6,270.6 52.0,273.5 C50.4,276.4 49.1,280.7 48.8,284.3 C48.4,287.9 49.2,291.9 49.9,295.2 C50.6,298.5 51.2,301.7 53.0,303.9 C54.8,306.1 57.6,307.0 60.7,308.3 C63.8,309.6 68.0,310.5 71.6,311.5 C75.2,312.5 78.9,313.8 82.5,314.3 C86.1,314.9 89.7,314.9 93.3,314.8 C96.9,314.7 100.6,314.2 104.2,313.7 C107.8,313.1 111.5,312.4 115.1,311.5 C118.7,310.6 122.4,309.2 126.0,308.3 C129.6,307.4 133.2,306.8 136.8,306.1 C140.4,305.4 143.2,304.6 147.7,304.3 C152.2,304.0 157.7,304.3 164.0,304.5 C170.3,304.7 179.5,305.4 185.7,305.7 C191.9,306.0 196.3,306.0 201.0,306.1 C205.7,306.2 210.0,306.9 214.0,306.5 C218.0,306.1 221.6,304.9 224.9,303.9 C228.2,302.9 230.3,301.4 233.6,300.7 C236.8,300.0 242.2,299.6 244.4,299.6 C246.6,299.6 244.8,301.1 246.6,300.7 C248.4,300.3 252.8,298.7 255.3,297.4 C257.8,296.1 260.1,294.6 261.8,293.0 C263.5,291.4 264.7,289.0 265.5,287.5 C266.3,286.0 266.2,285.9 266.7,284.0 C267.2,282.1 267.9,278.1 268.3,276.0 C268.7,273.9 268.6,271.7 269.0,271.3 C269.4,270.9 270.2,274.0 271.0,273.8 C271.8,273.6 272.9,272.2 273.7,270.2 C274.4,268.2 274.7,264.9 275.5,262.0 C276.3,259.1 277.8,254.5 278.3,253.0" fill="none" stroke="#101010" stroke-width="2.0" stroke-linejoin="round" stroke-linecap="round" />
</g>
<clipPath id="cBL"><path d="M366.5,34.5 L411.8,34.5 L411.8,65.7 L405.8,65.7 L405.8,73.8 L379.3,73.8 L379.3,65.7 L373.1,65.7 L373.1,49.6 L366.5,49.6 Z" fill="#000" /><path d="M491.2,81.9 L511.1,81.9 L511.1,97.9 L498.1,97.9 L498.1,104.1 L478.2,104.1 L478.2,90.3 L491.2,90.3 Z" fill="#000" /><path d="M458.3,104.8 L478.2,104.8 L478.2,120.9 L465.2,120.9 L465.2,129.3 L458.3,129.3 Z" fill="#000" /><path d="M366.4,161.5 L372.6,161.5 L372.6,168.4 L378.7,168.4 L378.7,174.5 L385.6,174.5 L385.6,185.2 L392.1,185.2 L392.1,233.5 L379.3,233.5 L379.3,224.3 L373.0,224.3 L373.0,217.3 L366.0,217.3 L366.0,209.0 L359.6,209.0 L359.6,169.1 L366.4,169.1 Z" fill="#000" /><path d="M385.6,185.2 L412.2,185.2 L412.2,192.7 L385.6,192.7 Z" fill="#000" /><path d="M411.2,99.1 L418.9,99.1 L418.9,105.3 L431.6,105.3 L431.6,113.9 L438.8,113.9 L438.8,121.6 L444.9,121.6 L444.9,129.4 L438.6,129.4 L438.6,176.0 L433.7,176.0 L433.7,201.0 L438.3,201.0 L438.3,216.4 L444.9,216.4 L444.9,224.6 L451.5,224.6 L451.5,240.4 L465.0,240.4 L465.0,250.2 L471.3,250.2 L471.3,256.4 L478.0,256.4 L477.6,321.0 L472.2,321.0 L472.2,342.9 L386.5,342.9 L386.5,335.2 L392.8,335.2 L392.8,247.5 L386.4,247.5 L386.4,233.3 L405.7,233.3 L405.7,192.7 L405.2,192.7 L405.2,185.0 L412.2,185.0 L412.2,137.0 L406.1,137.0 L406.1,120.6 L411.2,120.6 Z" fill="#000" /><path d="M508.5,343.6 L511.3,340.2 L515.9,338.8 L522.0,339.1 L526.2,341.0 L529.0,343.6 Z" fill="#000" /></clipPath>
<g fill="#80b8f7"><path d="M366.5,34.5 L411.8,34.5 L411.8,65.7 L405.8,65.7 L405.8,73.8 L379.3,73.8 L379.3,65.7 L373.1,65.7 L373.1,49.6 L366.5,49.6 Z" fill="#80b8f7" /><path d="M491.2,81.9 L511.1,81.9 L511.1,97.9 L498.1,97.9 L498.1,104.1 L478.2,104.1 L478.2,90.3 L491.2,90.3 Z" fill="#80b8f7" /><path d="M458.3,104.8 L478.2,104.8 L478.2,120.9 L465.2,120.9 L465.2,129.3 L458.3,129.3 Z" fill="#80b8f7" /><path d="M366.4,161.5 L372.6,161.5 L372.6,168.4 L378.7,168.4 L378.7,174.5 L385.6,174.5 L385.6,185.2 L392.1,185.2 L392.1,233.5 L379.3,233.5 L379.3,224.3 L373.0,224.3 L373.0,217.3 L366.0,217.3 L366.0,209.0 L359.6,209.0 L359.6,169.1 L366.4,169.1 Z" fill="#80b8f7" /><path d="M385.6,185.2 L412.2,185.2 L412.2,192.7 L385.6,192.7 Z" fill="#80b8f7" /><path d="M411.2,99.1 L418.9,99.1 L418.9,105.3 L431.6,105.3 L431.6,113.9 L438.8,113.9 L438.8,121.6 L444.9,121.6 L444.9,129.4 L438.6,129.4 L438.6,176.0 L433.7,176.0 L433.7,201.0 L438.3,201.0 L438.3,216.4 L444.9,216.4 L444.9,224.6 L451.5,224.6 L451.5,240.4 L465.0,240.4 L465.0,250.2 L471.3,250.2 L471.3,256.4 L478.0,256.4 L477.6,321.0 L472.2,321.0 L472.2,342.9 L386.5,342.9 L386.5,335.2 L392.8,335.2 L392.8,247.5 L386.4,247.5 L386.4,233.3 L405.7,233.3 L405.7,192.7 L405.2,192.7 L405.2,185.0 L412.2,185.0 L412.2,137.0 L406.1,137.0 L406.1,120.6 L411.2,120.6 Z" fill="#80b8f7" /><path d="M508.5,343.6 L511.3,340.2 L515.9,338.8 L522.0,339.1 L526.2,341.0 L529.0,343.6 Z" fill="#80b8f7" /></g>
<g clip-path="url(#cBL)"><path d="M366.0,34.0 C372.3,28.7 398.7,31.7 404.0,34.0 C409.3,36.3 400.3,44.0 398.0,48.0 C395.7,52.0 392.8,55.0 390.0,58.0 C387.2,61.0 383.8,64.0 381.0,66.0 C378.2,68.0 375.5,70.0 373.0,70.0 C370.5,70.0 367.2,72.0 366.0,66.0 C364.8,60.0 359.7,39.3 366.0,34.0 Z" fill="#56a3f0" /><path d="M424.0,110.0 C426.5,110.2 430.2,111.8 432.0,116.0 C433.8,120.2 434.2,127.7 434.5,135.0 C434.8,142.3 434.4,151.8 434.0,160.0 C433.6,168.2 432.5,175.7 432.0,184.0 C431.5,192.3 431.3,202.3 431.0,210.0 C430.7,217.7 431.7,225.7 430.0,230.0 C428.3,234.3 423.9,236.0 421.0,236.0 C418.1,236.0 413.9,236.0 412.5,230.0 C411.1,224.0 412.2,211.7 412.5,200.0 C412.8,188.3 413.7,171.7 414.0,160.0 C414.3,148.3 414.0,137.5 414.5,130.0 C415.0,122.5 415.4,118.3 417.0,115.0 C418.6,111.7 421.5,109.8 424.0,110.0 Z" fill="#56a3f0" /><path d="M366.0,163.0 C367.3,161.7 369.8,161.0 372.0,162.0 C374.2,163.0 376.8,166.7 379.0,169.0 C381.2,171.3 384.2,172.5 385.5,176.0 C386.8,179.5 386.8,185.2 387.0,190.0 C387.2,194.8 386.8,200.0 386.5,205.0 C386.2,210.0 386.1,216.5 385.0,220.0 C383.9,223.5 382.2,226.3 380.0,226.0 C377.8,225.7 374.5,221.5 372.0,218.0 C369.5,214.5 366.4,210.5 365.0,205.0 C363.6,199.5 363.7,190.8 363.5,185.0 C363.3,179.2 363.6,173.7 364.0,170.0 C364.4,166.3 364.7,164.3 366.0,163.0 Z" fill="#56a3f0" /><path d="M433.0,244.0 C435.7,243.0 438.8,247.0 442.0,250.0 C445.2,253.0 449.0,257.3 452.0,262.0 C455.0,266.7 457.8,272.5 460.0,278.0 C462.2,283.5 463.8,289.3 465.0,295.0 C466.2,300.7 467.3,306.8 467.0,312.0 C466.7,317.2 465.8,322.3 463.0,326.0 C460.2,329.7 455.5,332.3 450.0,334.0 C444.5,335.7 436.3,336.2 430.0,336.0 C423.7,335.8 416.2,335.3 412.0,333.0 C407.8,330.7 406.3,326.2 405.0,322.0 C403.7,317.8 404.5,311.7 404.0,308.0 C403.5,304.3 401.0,302.7 402.0,300.0 C403.0,297.3 407.3,294.7 410.0,292.0 C412.7,289.3 415.8,287.7 418.0,284.0 C420.2,280.3 421.7,274.7 423.0,270.0 C424.3,265.3 424.3,260.3 426.0,256.0 C427.7,251.7 430.3,245.0 433.0,244.0 Z" fill="#56a3f0" /><path d="M436.0,250.0 C437.5,250.3 439.7,254.3 442.0,258.0 C444.3,261.7 447.8,266.7 450.0,272.0 C452.2,277.3 454.2,284.5 455.0,290.0 C455.8,295.5 456.2,301.3 455.0,305.0 C453.8,308.7 451.2,310.8 448.0,312.0 C444.8,313.2 439.3,313.2 436.0,312.0 C432.7,310.8 429.5,309.0 428.0,305.0 C426.5,301.0 426.7,294.2 427.0,288.0 C427.3,281.8 429.0,273.3 430.0,268.0 C431.0,262.7 432.0,259.0 433.0,256.0 C434.0,253.0 434.5,249.7 436.0,250.0 Z" fill="#4a9af0" /></g>
<rect x="391.9" y="192.7" width="13.8" height="39" fill="#fff"/>
<rect x="419.2" y="99.1" width="12.4" height="6.2" fill="#fff"/>
<path d="M352.5,31 V346 M372.3,31 V346 M392.2,31 V346 M412.0,31 V346 M431.9,31 V346 M451.7,31 V346 M471.6,31 V346 M491.4,31 V346 M511.3,31 V346 M333,70.0 H531 M333,109.5 H531 M333,148.9 H531 M333,188.4 H531 M333,227.8 H531 M333,267.3 H531 M333,306.8 H531" stroke="#a8a8a8" stroke-width="0.9" stroke-dasharray="1.3 2.6" fill="none"/>
<g fill="#f7c6a0" stroke="#e9975c" stroke-width="0.8"><circle cx="478.2" cy="121.8" r="2.5"/><circle cx="484.8" cy="121.8" r="2.5"/><circle cx="491.4" cy="121.8" r="2.5"/><circle cx="498.0" cy="121.8" r="2.5"/><circle cx="504.6" cy="121.8" r="2.5"/><circle cx="511.3" cy="121.8" r="2.5"/><circle cx="517.9" cy="121.8" r="2.5"/><circle cx="524.5" cy="121.8" r="2.5"/><circle cx="471.6" cy="129.7" r="2.5"/><circle cx="478.2" cy="129.7" r="2.5"/><circle cx="484.8" cy="129.7" r="2.5"/><circle cx="491.4" cy="129.7" r="2.5"/><circle cx="498.0" cy="129.7" r="2.5"/><circle cx="504.6" cy="129.7" r="2.5"/><circle cx="511.3" cy="129.7" r="2.5"/><circle cx="517.9" cy="129.7" r="2.5"/><circle cx="524.5" cy="129.7" r="2.5"/><circle cx="464.9" cy="137.6" r="2.5"/><circle cx="471.6" cy="137.6" r="2.5"/><circle cx="478.2" cy="137.6" r="2.5"/><circle cx="484.8" cy="137.6" r="2.5"/><circle cx="491.4" cy="137.6" r="2.5"/><circle cx="498.0" cy="137.6" r="2.5"/><circle cx="504.6" cy="137.6" r="2.5"/><circle cx="511.3" cy="137.6" r="2.5"/><circle cx="517.9" cy="137.6" r="2.5"/><circle cx="524.5" cy="137.6" r="2.5"/><circle cx="464.9" cy="145.5" r="2.5"/><circle cx="471.6" cy="145.5" r="2.5"/><circle cx="478.2" cy="145.5" r="2.5"/><circle cx="484.8" cy="145.5" r="2.5"/><circle cx="491.4" cy="145.5" r="2.5"/><circle cx="498.0" cy="145.5" r="2.5"/><circle cx="504.6" cy="145.5" r="2.5"/><circle cx="511.3" cy="145.5" r="2.5"/><circle cx="517.9" cy="145.5" r="2.5"/><circle cx="524.5" cy="145.5" r="2.5"/><circle cx="464.9" cy="153.4" r="2.5"/><circle cx="471.6" cy="153.4" r="2.5"/><circle cx="478.2" cy="153.4" r="2.5"/><circle cx="484.8" cy="153.4" r="2.5"/><circle cx="491.4" cy="153.4" r="2.5"/><circle cx="498.0" cy="153.4" r="2.5"/><circle cx="504.6" cy="153.4" r="2.5"/><circle cx="511.3" cy="153.4" r="2.5"/><circle cx="517.9" cy="153.4" r="2.5"/><circle cx="524.5" cy="153.4" r="2.5"/><circle cx="478.2" cy="161.3" r="2.5"/><circle cx="484.8" cy="161.3" r="2.5"/><circle cx="491.4" cy="161.3" r="2.5"/><circle cx="498.0" cy="161.3" r="2.5"/><circle cx="504.6" cy="161.3" r="2.5"/><circle cx="511.3" cy="161.3" r="2.5"/></g>
<g fill="#a60c14"><circle cx="464.9" cy="106.1" r="1.3"/><circle cx="471.6" cy="106.1" r="1.3"/><circle cx="491.4" cy="106.1" r="1.3"/><circle cx="498.0" cy="106.1" r="1.3"/><circle cx="504.6" cy="106.1" r="1.3"/><circle cx="511.3" cy="106.1" r="1.3"/><circle cx="517.9" cy="106.1" r="1.3"/><circle cx="524.5" cy="106.1" r="1.3"/><circle cx="458.3" cy="113.9" r="1.3"/><circle cx="464.9" cy="113.9" r="1.3"/><circle cx="471.6" cy="113.9" r="1.3"/><circle cx="478.2" cy="113.9" r="1.3"/><circle cx="484.8" cy="113.9" r="1.3"/><circle cx="491.4" cy="113.9" r="1.3"/><circle cx="498.0" cy="113.9" r="1.3"/><circle cx="504.6" cy="113.9" r="1.3"/><circle cx="511.3" cy="113.9" r="1.3"/><circle cx="517.9" cy="113.9" r="1.3"/><circle cx="524.5" cy="113.9" r="1.3"/><circle cx="451.7" cy="121.8" r="1.3"/><circle cx="458.3" cy="121.8" r="1.3"/><circle cx="464.9" cy="121.8" r="1.3"/><circle cx="471.6" cy="121.8" r="1.3"/><circle cx="478.2" cy="121.8" r="1.3"/><circle cx="484.8" cy="121.8" r="1.3"/><circle cx="491.4" cy="121.8" r="1.3"/><circle cx="498.0" cy="121.8" r="1.3"/><circle cx="504.6" cy="121.8" r="1.3"/><circle cx="511.3" cy="121.8" r="1.3"/><circle cx="517.9" cy="121.8" r="1.3"/><circle cx="524.5" cy="121.8" r="1.3"/><circle cx="445.1" cy="129.7" r="1.3"/><circle cx="451.7" cy="129.7" r="1.3"/><circle cx="458.3" cy="129.7" r="1.3"/><circle cx="464.9" cy="129.7" r="1.3"/><circle cx="471.6" cy="129.7" r="1.3"/><circle cx="478.2" cy="129.7" r="1.3"/><circle cx="484.8" cy="129.7" r="1.3"/><circle cx="491.4" cy="129.7" r="1.3"/><circle cx="498.0" cy="129.7" r="1.3"/><circle cx="504.6" cy="129.7" r="1.3"/><circle cx="511.3" cy="129.7" r="1.3"/><circle cx="517.9" cy="129.7" r="1.3"/><circle cx="524.5" cy="129.7" r="1.3"/><circle cx="438.5" cy="137.6" r="1.3"/><circle cx="445.1" cy="137.6" r="1.3"/><circle cx="451.7" cy="137.6" r="1.3"/><circle cx="458.3" cy="137.6" r="1.3"/><circle cx="464.9" cy="137.6" r="1.3"/><circle cx="471.6" cy="137.6" r="1.3"/><circle cx="478.2" cy="137.6" r="1.3"/><circle cx="484.8" cy="137.6" r="1.3"/><circle cx="491.4" cy="137.6" r="1.3"/><circle cx="498.0" cy="137.6" r="1.3"/><circle cx="504.6" cy="137.6" r="1.3"/><circle cx="511.3" cy="137.6" r="1.3"/><circle cx="517.9" cy="137.6" r="1.3"/><circle cx="524.5" cy="137.6" r="1.3"/><circle cx="438.5" cy="145.5" r="1.3"/><circle cx="445.1" cy="145.5" r="1.3"/><circle cx="451.7" cy="145.5" r="1.3"/><circle cx="458.3" cy="145.5" r="1.3"/><circle cx="464.9" cy="145.5" r="1.3"/><circle cx="471.6" cy="145.5" r="1.3"/><circle cx="478.2" cy="145.5" r="1.3"/><circle cx="484.8" cy="145.5" r="1.3"/><circle cx="491.4" cy="145.5" r="1.3"/><circle cx="498.0" cy="145.5" r="1.3"/><circle cx="504.6" cy="145.5" r="1.3"/><circle cx="511.3" cy="145.5" r="1.3"/><circle cx="517.9" cy="145.5" r="1.3"/><circle cx="524.5" cy="145.5" r="1.3"/><circle cx="431.9" cy="153.4" r="1.3"/><circle cx="438.5" cy="153.4" r="1.3"/><circle cx="445.1" cy="153.4" r="1.3"/><circle cx="451.7" cy="153.4" r="1.3"/><circle cx="458.3" cy="153.4" r="1.3"/><circle cx="464.9" cy="153.4" r="1.3"/><circle cx="471.6" cy="153.4" r="1.3"/><circle cx="478.2" cy="153.4" r="1.3"/><circle cx="484.8" cy="153.4" r="1.3"/><circle cx="491.4" cy="153.4" r="1.3"/><circle cx="498.0" cy="153.4" r="1.3"/><circle cx="504.6" cy="153.4" r="1.3"/><circle cx="511.3" cy="153.4" r="1.3"/><circle cx="517.9" cy="153.4" r="1.3"/><circle cx="524.5" cy="153.4" r="1.3"/><circle cx="418.6" cy="161.3" r="1.3"/><circle cx="425.2" cy="161.3" r="1.3"/><circle cx="431.9" cy="161.3" r="1.3"/><circle cx="438.5" cy="161.3" r="1.3"/><circle cx="445.1" cy="161.3" r="1.3"/><circle cx="451.7" cy="161.3" r="1.3"/><circle cx="458.3" cy="161.3" r="1.3"/><circle cx="464.9" cy="161.3" r="1.3"/><circle cx="471.6" cy="161.3" r="1.3"/><circle cx="478.2" cy="161.3" r="1.3"/><circle cx="484.8" cy="161.3" r="1.3"/><circle cx="491.4" cy="161.3" r="1.3"/><circle cx="498.0" cy="161.3" r="1.3"/><circle cx="504.6" cy="161.3" r="1.3"/><circle cx="511.3" cy="161.3" r="1.3"/><circle cx="517.9" cy="161.3" r="1.3"/><circle cx="524.5" cy="161.3" r="1.3"/><circle cx="405.4" cy="169.2" r="1.3"/><circle cx="412.0" cy="169.2" r="1.3"/><circle cx="418.6" cy="169.2" r="1.3"/><circle cx="425.2" cy="169.2" r="1.3"/><circle cx="431.9" cy="169.2" r="1.3"/><circle cx="438.5" cy="169.2" r="1.3"/><circle cx="445.1" cy="169.2" r="1.3"/><circle cx="451.7" cy="169.2" r="1.3"/><circle cx="458.3" cy="169.2" r="1.3"/><circle cx="464.9" cy="169.2" r="1.3"/><circle cx="471.6" cy="169.2" r="1.3"/><circle cx="478.2" cy="169.2" r="1.3"/><circle cx="484.8" cy="169.2" r="1.3"/><circle cx="491.4" cy="169.2" r="1.3"/><circle cx="498.0" cy="169.2" r="1.3"/><circle cx="504.6" cy="169.2" r="1.3"/><circle cx="511.3" cy="169.2" r="1.3"/><circle cx="517.9" cy="169.2" r="1.3"/><circle cx="398.8" cy="177.1" r="1.3"/><circle cx="405.4" cy="177.1" r="1.3"/><circle cx="412.0" cy="177.1" r="1.3"/><circle cx="418.6" cy="177.1" r="1.3"/><circle cx="425.2" cy="177.1" r="1.3"/><circle cx="431.9" cy="177.1" r="1.3"/><circle cx="438.5" cy="177.1" r="1.3"/><circle cx="445.1" cy="177.1" r="1.3"/><circle cx="451.7" cy="177.1" r="1.3"/><circle cx="458.3" cy="177.1" r="1.3"/><circle cx="464.9" cy="177.1" r="1.3"/><circle cx="471.6" cy="177.1" r="1.3"/><circle cx="478.2" cy="177.1" r="1.3"/><circle cx="484.8" cy="177.1" r="1.3"/><circle cx="491.4" cy="177.1" r="1.3"/><circle cx="498.0" cy="177.1" r="1.3"/><circle cx="504.6" cy="177.1" r="1.3"/><circle cx="398.8" cy="185.0" r="1.3"/><circle cx="405.4" cy="185.0" r="1.3"/><circle cx="412.0" cy="185.0" r="1.3"/><circle cx="418.6" cy="185.0" r="1.3"/><circle cx="425.2" cy="185.0" r="1.3"/><circle cx="431.9" cy="185.0" r="1.3"/><circle cx="438.5" cy="185.0" r="1.3"/><circle cx="445.1" cy="185.0" r="1.3"/><circle cx="451.7" cy="185.0" r="1.3"/><circle cx="458.3" cy="185.0" r="1.3"/><circle cx="464.9" cy="185.0" r="1.3"/><circle cx="471.6" cy="185.0" r="1.3"/><circle cx="478.2" cy="185.0" r="1.3"/><circle cx="484.8" cy="185.0" r="1.3"/><circle cx="491.4" cy="185.0" r="1.3"/><circle cx="498.0" cy="185.0" r="1.3"/><circle cx="398.8" cy="192.8" r="1.3"/><circle cx="405.4" cy="192.8" r="1.3"/><circle cx="412.0" cy="192.8" r="1.3"/><circle cx="418.6" cy="192.8" r="1.3"/><circle cx="425.2" cy="192.8" r="1.3"/><circle cx="431.9" cy="192.8" r="1.3"/><circle cx="438.5" cy="192.8" r="1.3"/><circle cx="445.1" cy="192.8" r="1.3"/><circle cx="451.7" cy="192.8" r="1.3"/><circle cx="458.3" cy="192.8" r="1.3"/><circle cx="464.9" cy="192.8" r="1.3"/><circle cx="471.6" cy="192.8" r="1.3"/><circle cx="478.2" cy="192.8" r="1.3"/><circle cx="484.8" cy="192.8" r="1.3"/><circle cx="491.4" cy="192.8" r="1.3"/><circle cx="398.8" cy="200.7" r="1.3"/><circle cx="405.4" cy="200.7" r="1.3"/><circle cx="412.0" cy="200.7" r="1.3"/><circle cx="418.6" cy="200.7" r="1.3"/><circle cx="425.2" cy="200.7" r="1.3"/><circle cx="431.9" cy="200.7" r="1.3"/><circle cx="438.5" cy="200.7" r="1.3"/><circle cx="445.1" cy="200.7" r="1.3"/><circle cx="451.7" cy="200.7" r="1.3"/><circle cx="458.3" cy="200.7" r="1.3"/><circle cx="464.9" cy="200.7" r="1.3"/><circle cx="471.6" cy="200.7" r="1.3"/><circle cx="478.2" cy="200.7" r="1.3"/><circle cx="484.8" cy="200.7" r="1.3"/><circle cx="491.4" cy="200.7" r="1.3"/><circle cx="498.0" cy="200.7" r="1.3"/><circle cx="398.8" cy="208.6" r="1.3"/><circle cx="405.4" cy="208.6" r="1.3"/><circle cx="412.0" cy="208.6" r="1.3"/><circle cx="418.6" cy="208.6" r="1.3"/><circle cx="425.2" cy="208.6" r="1.3"/><circle cx="431.9" cy="208.6" r="1.3"/><circle cx="438.5" cy="208.6" r="1.3"/><circle cx="445.1" cy="208.6" r="1.3"/><circle cx="451.7" cy="208.6" r="1.3"/><circle cx="458.3" cy="208.6" r="1.3"/><circle cx="464.9" cy="208.6" r="1.3"/><circle cx="471.6" cy="208.6" r="1.3"/><circle cx="478.2" cy="208.6" r="1.3"/><circle cx="484.8" cy="208.6" r="1.3"/><circle cx="491.4" cy="208.6" r="1.3"/><circle cx="498.0" cy="208.6" r="1.3"/><circle cx="398.8" cy="216.5" r="1.3"/><circle cx="405.4" cy="216.5" r="1.3"/><circle cx="412.0" cy="216.5" r="1.3"/><circle cx="418.6" cy="216.5" r="1.3"/><circle cx="425.2" cy="216.5" r="1.3"/><circle cx="431.9" cy="216.5" r="1.3"/><circle cx="438.5" cy="216.5" r="1.3"/><circle cx="445.1" cy="216.5" r="1.3"/><circle cx="451.7" cy="216.5" r="1.3"/><circle cx="458.3" cy="216.5" r="1.3"/><circle cx="464.9" cy="216.5" r="1.3"/><circle cx="471.6" cy="216.5" r="1.3"/><circle cx="478.2" cy="216.5" r="1.3"/><circle cx="484.8" cy="216.5" r="1.3"/><circle cx="491.4" cy="216.5" r="1.3"/><circle cx="498.0" cy="216.5" r="1.3"/><circle cx="405.4" cy="224.4" r="1.3"/><circle cx="412.0" cy="224.4" r="1.3"/><circle cx="418.6" cy="224.4" r="1.3"/><circle cx="425.2" cy="224.4" r="1.3"/><circle cx="431.9" cy="224.4" r="1.3"/><circle cx="438.5" cy="224.4" r="1.3"/><circle cx="445.1" cy="224.4" r="1.3"/><circle cx="451.7" cy="224.4" r="1.3"/><circle cx="458.3" cy="224.4" r="1.3"/><circle cx="464.9" cy="224.4" r="1.3"/><circle cx="471.6" cy="224.4" r="1.3"/><circle cx="478.2" cy="224.4" r="1.3"/><circle cx="484.8" cy="224.4" r="1.3"/><circle cx="491.4" cy="224.4" r="1.3"/><circle cx="498.0" cy="224.4" r="1.3"/><circle cx="504.6" cy="224.4" r="1.3"/><circle cx="431.9" cy="232.3" r="1.3"/><circle cx="438.5" cy="232.3" r="1.3"/><circle cx="445.1" cy="232.3" r="1.3"/><circle cx="451.7" cy="232.3" r="1.3"/><circle cx="458.3" cy="232.3" r="1.3"/><circle cx="464.9" cy="232.3" r="1.3"/><circle cx="471.6" cy="232.3" r="1.3"/><circle cx="478.2" cy="232.3" r="1.3"/><circle cx="484.8" cy="232.3" r="1.3"/><circle cx="491.4" cy="232.3" r="1.3"/><circle cx="498.0" cy="232.3" r="1.3"/><circle cx="504.6" cy="232.3" r="1.3"/><circle cx="511.3" cy="232.3" r="1.3"/><circle cx="464.9" cy="240.2" r="1.3"/><circle cx="471.6" cy="240.2" r="1.3"/><circle cx="478.2" cy="240.2" r="1.3"/><circle cx="484.8" cy="240.2" r="1.3"/><circle cx="491.4" cy="240.2" r="1.3"/><circle cx="498.0" cy="240.2" r="1.3"/><circle cx="504.6" cy="240.2" r="1.3"/><circle cx="511.3" cy="240.2" r="1.3"/><circle cx="517.9" cy="240.2" r="1.3"/><circle cx="524.5" cy="240.2" r="1.3"/><circle cx="464.9" cy="248.1" r="1.3"/><circle cx="471.6" cy="248.1" r="1.3"/><circle cx="478.2" cy="248.1" r="1.3"/><circle cx="484.8" cy="248.1" r="1.3"/><circle cx="491.4" cy="248.1" r="1.3"/><circle cx="498.0" cy="248.1" r="1.3"/><circle cx="504.6" cy="248.1" r="1.3"/><circle cx="511.3" cy="248.1" r="1.3"/><circle cx="517.9" cy="248.1" r="1.3"/><circle cx="524.5" cy="248.1" r="1.3"/><circle cx="471.6" cy="256.0" r="1.3"/><circle cx="478.2" cy="256.0" r="1.3"/><circle cx="484.8" cy="256.0" r="1.3"/><circle cx="491.4" cy="256.0" r="1.3"/><circle cx="498.0" cy="256.0" r="1.3"/><circle cx="504.6" cy="256.0" r="1.3"/><circle cx="511.3" cy="256.0" r="1.3"/><circle cx="517.9" cy="256.0" r="1.3"/><circle cx="524.5" cy="256.0" r="1.3"/><circle cx="471.6" cy="263.9" r="1.3"/><circle cx="478.2" cy="263.9" r="1.3"/><circle cx="484.8" cy="263.9" r="1.3"/><circle cx="491.4" cy="263.9" r="1.3"/><circle cx="498.0" cy="263.9" r="1.3"/><circle cx="504.6" cy="263.9" r="1.3"/><circle cx="511.3" cy="263.9" r="1.3"/><circle cx="517.9" cy="263.9" r="1.3"/><circle cx="524.5" cy="263.9" r="1.3"/><circle cx="471.6" cy="271.7" r="1.3"/><circle cx="478.2" cy="271.7" r="1.3"/><circle cx="484.8" cy="271.7" r="1.3"/><circle cx="491.4" cy="271.7" r="1.3"/><circle cx="498.0" cy="271.7" r="1.3"/><circle cx="504.6" cy="271.7" r="1.3"/><circle cx="511.3" cy="271.7" r="1.3"/><circle cx="517.9" cy="271.7" r="1.3"/><circle cx="524.5" cy="271.7" r="1.3"/><circle cx="471.6" cy="279.6" r="1.3"/><circle cx="478.2" cy="279.6" r="1.3"/><circle cx="484.8" cy="279.6" r="1.3"/><circle cx="491.4" cy="279.6" r="1.3"/><circle cx="498.0" cy="279.6" r="1.3"/><circle cx="504.6" cy="279.6" r="1.3"/><circle cx="511.3" cy="279.6" r="1.3"/><circle cx="517.9" cy="279.6" r="1.3"/><circle cx="524.5" cy="279.6" r="1.3"/><circle cx="478.2" cy="287.5" r="1.3"/><circle cx="484.8" cy="287.5" r="1.3"/><circle cx="491.4" cy="287.5" r="1.3"/><circle cx="498.0" cy="287.5" r="1.3"/><circle cx="504.6" cy="287.5" r="1.3"/><circle cx="511.3" cy="287.5" r="1.3"/><circle cx="517.9" cy="287.5" r="1.3"/><circle cx="524.5" cy="287.5" r="1.3"/><circle cx="478.2" cy="295.4" r="1.3"/><circle cx="484.8" cy="295.4" r="1.3"/><circle cx="491.4" cy="295.4" r="1.3"/><circle cx="498.0" cy="295.4" r="1.3"/><circle cx="504.6" cy="295.4" r="1.3"/><circle cx="511.3" cy="295.4" r="1.3"/><circle cx="517.9" cy="295.4" r="1.3"/><circle cx="524.5" cy="295.4" r="1.3"/><circle cx="491.4" cy="334.9" r="1.3"/><circle cx="504.6" cy="334.9" r="1.3"/><circle cx="511.3" cy="334.9" r="1.3"/><circle cx="517.9" cy="334.9" r="1.3"/></g>
<g fill="none" stroke="#e2874c" stroke-width="1.2"><circle cx="418.6" cy="319.5" r="2.4"/><circle cx="425.2" cy="319.5" r="2.4"/><circle cx="431.9" cy="319.5" r="2.4"/><circle cx="438.5" cy="319.5" r="2.4"/><circle cx="445.1" cy="319.5" r="2.4"/><circle cx="451.7" cy="319.5" r="2.4"/><circle cx="458.3" cy="319.5" r="2.4"/><circle cx="464.9" cy="319.5" r="2.4"/><circle cx="471.6" cy="319.5" r="2.4"/><circle cx="478.2" cy="319.5" r="2.4"/></g>
<g clip-path="url(#cB)">
<path d="M405.4,156.4 C405.4,154.3 405.3,156.1 405.3,150.0 C405.3,143.9 405.4,126.3 405.3,120.0 C405.2,113.7 404.9,114.2 404.8,112.0 C404.7,109.8 404.2,108.0 404.5,106.5 C404.8,105.0 405.1,103.8 406.3,102.8 C407.5,101.8 409.5,101.5 411.8,100.5 C414.1,99.5 417.4,98.0 420.2,96.7 C423.0,95.4 425.5,93.7 428.7,92.4 C431.9,91.1 436.3,89.3 439.5,88.7 C442.7,88.1 445.7,88.6 448.0,88.8 C450.3,89.0 451.6,89.0 453.4,89.8 C455.2,90.6 456.7,92.4 458.8,93.4 C460.9,94.5 463.7,95.5 465.9,96.1 C468.1,96.7 470.4,96.2 472.2,97.0 C474.0,97.8 475.4,99.1 476.7,101.0 C478.0,102.9 479.1,106.0 479.8,108.6 C480.5,111.1 480.8,114.0 480.8,116.3 C480.8,118.6 480.6,120.1 479.8,122.4 C479.0,124.7 477.1,128.0 475.8,130.0 C474.5,132.0 472.7,133.2 472.0,134.5 C471.3,135.8 470.7,136.5 471.5,137.5 C472.3,138.5 475.5,139.3 476.6,140.7 C477.8,142.1 479.0,143.5 478.4,146.0 C477.8,148.5 474.9,153.3 473.1,155.7 C471.3,158.1 470.1,159.1 467.7,160.2 C465.3,161.2 461.6,161.8 458.8,162.0 C456.1,162.2 453.3,162.0 451.2,161.5 C449.1,161.0 447.6,160.0 446.1,158.9 C444.6,157.8 444.0,156.1 442.3,155.1 C440.6,154.1 438.2,153.5 435.9,153.2 C433.5,152.9 430.8,152.9 428.2,153.2 C425.6,153.5 422.4,154.3 420.5,155.1 C418.6,155.8 417.8,156.4 416.7,157.7 C415.6,159.0 415.0,161.3 414.2,162.8 C413.4,164.3 412.7,166.1 411.6,166.6 C410.5,167.1 408.9,166.6 407.8,166.0 C406.7,165.4 405.6,164.4 405.2,162.8 C404.8,161.2 405.4,158.5 405.4,156.4 Z" fill="none" stroke="#2ea43a" stroke-width="1.9" stroke-linejoin="round" stroke-linecap="round" />
<path d="M373.2,159.6 C370.9,159.4 367.5,159.5 365.0,159.8 C362.5,160.1 360.5,160.5 358.2,161.3 C355.9,162.1 352.7,163.1 351.1,164.5 C349.5,165.9 349.1,167.7 348.8,169.9 C348.6,172.1 349.2,174.8 349.6,177.6 C350.0,180.4 350.7,183.8 351.1,186.8 C351.5,189.9 351.8,192.8 351.9,195.9 C352.0,199.0 351.6,202.6 351.9,205.2 C352.2,207.8 352.8,209.5 353.8,211.6 C354.8,213.7 356.2,215.9 357.7,218.0 C359.2,220.1 361.1,222.3 362.8,224.3 C364.5,226.3 366.2,228.6 367.9,230.1 C369.6,231.6 370.8,232.6 373.0,233.3 C375.2,234.0 378.1,234.5 380.9,234.5 C383.7,234.5 388.6,234.6 390.0,233.3 C391.4,232.1 390.0,228.7 389.5,227.0 C389.0,225.3 388.3,224.6 387.0,223.1 C385.7,221.6 383.5,219.7 381.9,218.0 C380.3,216.3 378.5,214.6 377.4,212.9 C376.3,211.2 375.2,209.8 375.5,207.8 C375.8,205.8 377.4,203.2 379.0,201.0 C380.6,198.8 383.1,196.8 384.8,194.4 C386.5,192.0 388.4,189.4 389.4,186.8 C390.4,184.2 391.0,181.7 391.0,179.1 C391.0,176.5 390.4,173.7 389.4,171.4 C388.4,169.1 386.6,167.1 384.8,165.3 C383.0,163.5 380.6,161.6 378.7,160.7 C376.8,159.8 375.5,159.8 373.2,159.6 Z" fill="none" stroke="#2ea43a" stroke-width="1.9" stroke-linejoin="round" stroke-linecap="round" />
<path d="M419.5,240.0 C420.8,237.5 423.3,234.8 425.4,233.8 C427.5,232.8 429.7,233.0 432.3,233.8 C434.9,234.6 438.0,237.5 440.9,238.6 C443.8,239.7 446.9,239.9 449.9,240.4 C452.9,240.9 455.2,241.3 458.8,241.3 C462.4,241.3 468.3,240.0 471.3,240.4 C474.3,240.8 474.5,242.1 476.6,243.9 C478.7,245.7 481.3,249.0 483.8,251.1 C486.3,253.2 489.3,254.6 491.8,256.4 C494.3,258.2 496.7,260.6 498.9,261.8 C501.1,263.0 503.2,262.7 505.2,263.6 C507.1,264.5 508.5,265.0 510.6,267.1 C512.7,269.2 516.0,273.5 517.7,276.1 C519.4,278.7 520.9,280.6 520.9,282.6 C520.9,284.7 519.4,286.8 518.0,288.4 C516.6,290.0 514.5,291.1 512.3,292.2 C510.1,293.3 507.6,294.3 504.7,295.1 C501.8,295.9 498.0,296.6 495.1,297.0 C492.2,297.4 490.3,297.3 487.4,297.6 C484.5,297.9 480.4,297.6 477.9,298.9 C475.4,300.2 474.1,303.7 472.2,305.6 C470.3,307.6 468.6,309.7 466.4,310.6 C464.2,311.5 461.4,311.1 458.8,311.0 C456.2,310.9 453.5,311.0 451.1,310.0 C448.7,309.0 446.1,306.1 444.5,305.0 C442.9,303.9 443.7,304.6 441.6,303.7 C439.5,302.8 435.1,300.8 432.0,299.9 C428.9,299.0 426.3,297.9 422.7,298.1 C419.1,298.3 413.7,300.6 410.1,301.2 C406.5,301.8 404.1,301.6 401.0,301.4 C397.9,301.2 394.0,301.1 391.3,300.2 C388.6,299.3 385.8,297.8 384.6,296.1 C383.4,294.4 382.9,291.4 384.0,290.0 C385.1,288.6 388.7,288.5 391.3,287.6 C393.9,286.7 397.7,285.7 399.6,284.5 C401.5,283.3 402.5,282.1 402.8,280.3 C403.1,278.6 401.2,275.8 401.7,274.0 C402.2,272.2 403.8,271.9 405.9,269.8 C408.0,267.7 412.4,265.0 414.3,261.5 C416.2,258.0 416.5,252.5 417.4,248.9 C418.3,245.3 418.2,242.5 419.5,240.0 Z" fill="none" stroke="#2ea43a" stroke-width="1.9" stroke-linejoin="round" stroke-linecap="round" />
<path d="M457.0,343.2 C456.3,343.0 454.8,342.6 452.9,341.9 C451.0,341.2 448.2,339.9 445.9,339.1 C443.6,338.3 441.6,337.6 439.0,337.0 C436.4,336.4 433.4,336.5 430.6,335.6 C427.8,334.7 424.4,333.0 422.3,331.4 C420.2,329.8 418.9,327.6 418.1,325.9 C417.3,324.2 417.5,321.1 417.6,321.0 C417.7,320.9 417.3,323.9 418.5,325.0 C419.7,326.1 421.6,326.9 425.0,327.3 C428.4,327.7 435.8,326.9 439.0,327.3 C442.2,327.8 442.4,329.1 444.5,330.0 C446.6,330.9 449.2,332.2 451.5,332.8 C453.8,333.4 455.8,333.6 458.4,333.5 C460.9,333.4 464.2,332.7 466.8,332.1 C469.4,331.5 471.5,330.7 473.7,330.0 C475.9,329.3 478.2,329.0 480.0,328.0 C481.8,327.0 483.0,324.3 484.6,323.8 C486.2,323.3 487.8,324.4 489.4,325.2 C491.0,326.0 492.6,327.5 494.0,328.5 C495.4,329.5 496.4,330.3 497.5,331.3 C498.6,332.3 499.1,333.7 500.6,334.3 C502.1,334.9 507.2,334.7 506.7,335.1 C506.2,335.5 500.6,336.0 497.5,336.6 C494.4,337.2 491.1,338.2 488.3,339.0 C485.5,339.8 482.9,340.4 480.7,341.2 C478.5,341.9 476.3,343.1 475.4,343.5" fill="none" stroke="#2ea43a" stroke-width="1.9" stroke-linejoin="round" stroke-linecap="round" />
<path d="M524.3,334.3 C524.9,335.1 527.1,337.5 528.1,338.9 C529.1,340.3 530.0,342.1 530.4,342.8" fill="none" stroke="#2ea43a" stroke-width="1.9" stroke-linejoin="round" stroke-linecap="round" />
<path d="M409,319.5 Q413,316.5 417,319.3 Q413,322 409,319.5 Z" fill="#2ea43a"/>
<path d="M531.0,264.5 C530.0,264.4 527.4,264.1 524.9,263.6 C522.4,263.2 518.9,263.0 515.9,261.8 C512.9,260.6 509.7,258.2 507.0,256.4 C504.3,254.6 501.7,252.9 499.9,251.1 C498.1,249.3 497.5,247.5 496.3,245.7 C495.1,243.9 494.5,241.7 492.7,240.4 C490.9,239.1 488.3,238.3 485.6,237.7 C482.9,237.1 479.6,237.0 476.6,236.8 C473.6,236.6 470.7,236.4 467.7,236.4 C464.7,236.4 461.8,237.0 458.8,236.8 C455.8,236.6 452.9,236.2 449.9,235.0 C446.9,233.8 442.8,231.1 440.9,229.6 C439.0,228.1 438.6,227.6 438.3,226.1 C438.0,224.6 438.4,222.2 439.1,220.7 C439.8,219.2 441.5,218.4 442.7,217.1 C443.9,215.8 446.0,215.1 446.3,213.0 C446.6,210.9 445.4,207.7 444.5,204.4 C443.6,201.1 442.2,196.1 441.2,193.4 C440.2,190.7 439.2,189.7 438.4,188.3 C437.6,186.9 436.5,185.9 436.5,185.1 C436.5,184.2 437.2,184.4 438.4,183.2 C439.6,182.0 441.6,179.9 443.5,178.1 C445.4,176.3 447.3,174.2 449.9,172.5 C452.4,170.8 455.2,169.4 458.8,168.2 C462.4,167.0 467.7,166.4 471.3,165.5 C474.9,164.6 477.2,164.2 480.2,162.9 C483.2,161.6 486.4,159.4 489.1,157.5 C491.8,155.6 494.5,153.4 496.3,151.3 C498.1,149.2 499.3,146.8 500.0,145.0 C500.7,143.2 500.4,143.2 500.7,140.7 C501.0,138.2 501.2,133.0 501.6,130.0 C502.1,127.0 502.8,125.3 503.4,122.9 C504.0,120.5 504.9,117.8 505.0,115.7 C505.1,113.6 505.2,112.1 504.3,110.4 C503.4,108.7 501.8,106.8 499.9,105.5 C498.0,104.2 495.1,103.6 492.7,102.3 C490.3,101.0 488.3,99.2 485.6,97.9 C482.9,96.6 479.6,95.3 476.6,94.3 C473.6,93.2 470.7,92.4 467.7,91.6 C464.7,90.8 462.1,90.0 458.8,89.6 C455.5,89.2 451.2,89.2 448.0,89.2 C444.8,89.2 442.8,88.7 439.5,89.4 C436.2,90.1 432.2,91.7 428.5,93.2 C424.8,94.7 419.9,97.0 417.4,98.5 C414.8,100.0 414.1,100.7 413.2,102.0 C412.3,103.3 411.8,104.3 411.8,106.2 C411.9,108.1 413.0,111.3 413.5,113.2 C414.0,115.1 414.5,115.8 414.9,117.4 C415.2,119.0 415.6,120.7 415.6,123.0 C415.6,125.3 415.3,128.7 415.0,131.5 C414.7,134.3 414.1,137.2 413.6,139.9 C413.1,142.7 413.0,145.5 411.8,148.0 C410.6,150.5 408.6,153.1 406.3,154.7 C404.0,156.3 400.8,156.8 398.0,157.6 C395.2,158.3 392.2,159.1 389.8,159.2 C387.4,159.3 385.7,158.4 383.3,158.4 C380.9,158.4 378.2,158.5 375.6,159.2 C373.1,159.8 369.8,161.0 368.0,162.3 C366.2,163.6 365.5,165.0 364.9,166.8 C364.2,168.6 364.0,170.9 364.1,173.0 C364.2,175.1 365.2,177.1 365.7,179.1 C366.2,181.1 367.0,183.2 367.0,185.2 C367.0,187.2 366.1,188.8 365.7,191.3 C365.3,193.9 364.7,197.8 364.4,200.5 C364.1,203.2 363.9,204.9 364.0,207.8 C364.1,210.7 364.4,215.2 365.3,218.0 C366.2,220.8 367.4,222.5 369.1,224.3 C370.8,226.1 373.6,227.5 375.5,228.8 C377.4,230.1 378.7,231.2 380.6,232.0 C382.5,232.8 383.5,233.1 387.0,233.5 C390.5,233.9 397.2,234.1 401.7,234.6 C406.2,235.1 410.8,235.4 414.0,236.5 C417.2,237.6 419.4,238.8 421.0,241.0 C422.6,243.2 423.2,247.3 423.7,250.0 C424.1,252.7 423.9,254.0 423.7,257.3 C423.5,260.6 423.4,266.3 422.7,269.8 C422.0,273.3 421.3,275.6 419.5,278.2 C417.7,280.8 414.3,283.4 412.0,285.5 C409.7,287.6 407.7,288.9 405.9,290.8 C404.1,292.7 402.3,295.1 401.0,297.0 C399.7,298.9 398.2,300.8 398.0,302.0 C397.8,303.2 396.9,303.6 400.0,304.0 C403.1,304.4 408.9,304.6 416.4,304.6 C423.9,304.6 434.7,304.3 445.0,304.0 C455.3,303.7 470.6,303.5 478.0,302.7 C485.4,301.9 485.9,300.0 489.4,299.3 C492.9,298.6 495.7,298.4 498.9,298.3 C502.1,298.2 505.3,298.6 508.5,298.8 C511.7,299.0 514.8,299.4 518.0,299.5 C521.2,299.6 525.4,299.5 527.6,299.3 C529.8,299.1 530.4,298.6 531.0,298.5" fill="none" stroke="#2b6fd3" stroke-width="1.9" stroke-linejoin="round" stroke-linecap="round" />
<path d="M531.0,268.5 C530.0,268.0 527.4,266.4 524.9,265.4 C522.4,264.4 518.9,263.6 515.9,262.7 C512.9,261.8 509.7,261.4 507.0,260.0 C504.3,258.6 502.0,256.4 499.9,254.6 C497.8,252.8 496.3,250.9 494.5,249.3 C492.7,247.7 490.9,246.1 489.1,244.8 C487.3,243.5 485.9,242.2 483.8,241.3 C481.7,240.4 479.3,240.1 476.6,239.5 C473.9,238.9 470.2,238.6 467.7,238.0 C465.2,237.4 463.5,236.4 461.4,236.0 C459.3,235.6 457.0,235.7 455.0,235.5 C453.0,235.3 451.3,235.1 449.3,234.8 C447.3,234.6 445.5,234.7 443.2,234.0 C440.9,233.3 437.6,231.9 435.5,230.9 C433.4,229.9 432.0,228.9 430.9,227.9 C429.8,226.9 428.7,225.8 428.6,224.8 C428.5,223.8 429.4,223.3 430.2,221.8 C431.0,220.3 432.6,218.4 433.2,215.6 C433.8,212.8 434.1,207.9 434.0,204.9 C433.9,201.9 433.3,199.3 432.5,197.3 C431.7,195.3 430.9,194.2 429.4,192.7 C427.9,191.2 425.1,189.5 423.3,188.1 C421.5,186.7 419.2,185.3 418.5,184.5 C417.8,183.7 418.1,184.1 419.3,183.3 C420.5,182.6 423.5,181.1 425.6,180.0 C427.7,178.9 430.0,178.2 432.0,176.5 C434.0,174.8 435.3,172.0 437.4,170.0 C439.5,168.0 441.8,165.8 444.5,164.6 C447.2,163.4 448.9,163.3 453.4,162.9 C457.9,162.5 467.1,162.8 471.3,162.0 C475.5,161.2 476.3,159.6 478.4,158.4 C480.5,157.2 482.0,156.4 483.8,154.8 C485.6,153.2 487.8,150.7 489.1,148.6 C490.4,146.5 491.3,145.1 491.8,142.0 C492.3,138.9 492.2,134.0 492.3,130.0 C492.4,126.0 492.8,121.1 492.7,118.0 C492.6,114.9 492.7,113.2 491.8,111.3 C490.9,109.4 489.0,108.4 487.4,106.8 C485.8,105.2 484.1,103.2 482.0,101.4 C479.9,99.6 477.3,97.6 474.9,96.1 C472.5,94.6 470.4,93.7 467.7,92.5 C465.0,91.3 462.1,89.9 458.8,89.2 C455.5,88.5 451.2,88.7 448.0,88.6 C444.8,88.5 442.7,87.9 439.5,88.6 C436.3,89.2 431.9,91.1 428.7,92.5 C425.5,93.9 423.0,95.5 420.2,96.8 C417.4,98.1 414.1,99.6 411.8,100.6 C409.5,101.6 407.5,101.8 406.2,102.7 C404.9,103.6 404.4,104.5 404.1,106.2 C403.8,108.0 404.1,111.2 404.5,113.2 C404.9,115.2 405.5,116.5 406.2,118.1 C406.9,119.6 408.3,120.6 408.8,122.5 C409.3,124.4 409.3,127.0 409.4,129.3 C409.5,131.6 409.4,134.0 409.2,136.4 C409.0,138.8 409.0,141.3 408.3,144.0 C407.6,146.7 406.6,150.5 405.2,152.5 C403.8,154.5 402.0,155.3 399.9,156.1 C397.8,156.9 395.7,157.3 392.7,157.5 C389.7,157.7 385.3,157.6 382.0,157.5 C378.7,157.4 375.5,156.9 373.1,157.0 C370.7,157.1 369.5,157.3 367.7,157.9 C365.9,158.5 364.1,159.4 362.5,160.5 C360.9,161.6 359.3,162.9 358.3,164.5 C357.3,166.1 356.6,167.7 356.3,169.9 C356.0,172.1 355.8,175.2 356.3,177.6 C356.9,180.0 359.0,182.8 359.6,184.5 C360.2,186.2 360.1,186.6 360.0,188.0 C359.9,189.4 359.5,190.8 359.3,192.9 C359.1,195.0 358.8,197.7 358.6,200.5 C358.4,203.3 358.0,207.2 358.2,210.0 C358.4,212.8 358.7,214.5 359.7,217.1 C360.7,219.7 362.5,223.2 364.2,225.5 C365.9,227.8 367.6,229.7 369.7,231.0 C371.8,232.3 373.7,232.6 376.7,233.1 C379.7,233.6 383.6,233.8 387.8,234.2 C392.0,234.5 397.5,234.7 401.7,235.2 C405.9,235.7 410.1,236.5 412.9,237.3 C415.7,238.1 417.1,238.6 418.4,240.0 C419.7,241.4 420.3,243.4 420.8,245.6 C421.3,247.8 421.8,249.8 421.6,253.1 C421.4,256.4 420.4,261.9 419.5,265.7 C418.6,269.5 418.0,273.0 416.4,276.1 C414.8,279.2 412.2,282.6 410.1,284.5 C408.0,286.4 405.4,285.9 403.8,287.6 C402.2,289.4 401.7,293.2 400.7,295.0 C399.7,296.8 398.7,296.9 397.6,298.1 C396.6,299.3 394.4,301.2 394.4,302.3 C394.4,303.4 393.9,303.9 397.6,304.4 C401.3,304.8 408.5,305.0 416.4,305.0 C424.3,305.0 435.1,304.6 445.0,304.4 C454.9,304.2 469.6,304.1 476.0,303.7 C482.4,303.3 481.1,302.4 483.6,301.8 C486.2,301.2 488.8,300.4 491.3,299.9 C493.9,299.4 496.3,298.9 498.9,298.9 C501.4,298.9 504.4,299.4 506.6,299.9 C508.8,300.4 510.5,301.1 512.3,301.8 C514.1,302.5 515.5,303.9 517.4,303.8 C519.3,303.8 521.2,302.5 523.5,301.5 C525.8,300.5 529.8,298.6 531.0,298.0" fill="none" stroke="#101010" stroke-width="2.0" stroke-linejoin="round" stroke-linecap="round" />
<ellipse cx="395.2" cy="209.1" rx="5.4" ry="2.5" fill="none" stroke="#101010" stroke-width="1.7"/>
<path d="M508.2,344.5 C509.5,341.5 511.5,339.6 515.9,338.9 C520,338.5 524,339 526.4,341 C527.8,342.2 528.8,343.5 529.3,345" fill="none" stroke="#2b6fd3" stroke-width="1.6"/>
<path d="M507.6,343.4 C509,340 511.5,338.3 515.9,337.5 C520,337.1 524,337.6 526.6,339.6 C528.3,341 529.3,342.3 529.8,343.6" fill="none" stroke="#101010" stroke-width="1.8"/>
</g>
<rect x="39.4" y="30.4" width="248.4" height="315.2" fill="none" stroke="#111" stroke-width="1.4"/>
<rect x="332.6" y="30.6" width="198.5" height="315.6" fill="none" stroke="#111" stroke-width="1.4"/>
<path d="M37.2,30.5 H39.4 M37.2,62.0 H39.4 M37.2,93.5 H39.4 M37.2,125.0 H39.4 M37.2,156.5 H39.4 M37.2,188.1 H39.4 M37.2,219.6 H39.4 M37.2,251.1 H39.4 M37.2,282.6 H39.4 M37.2,314.1 H39.4 M37.2,345.6 H39.4 M39.3,345.6 V347.8 M68.6,345.6 V347.8 M97.9,345.6 V347.8 M127.1,345.6 V347.8 M156.4,345.6 V347.8 M185.7,345.6 V347.8 M215.0,345.6 V347.8 M244.3,345.6 V347.8 M273.5,345.6 V347.8 M330.4,30.6 H332.6 M330.4,70.0 H332.6 M330.4,109.5 H332.6 M330.4,148.9 H332.6 M330.4,188.4 H332.6 M330.4,227.8 H332.6 M330.4,267.3 H332.6 M330.4,306.8 H332.6 M330.4,346.2 H332.6 M332.6,346.2 V348.4 M352.5,346.2 V348.4 M372.3,346.2 V348.4 M392.2,346.2 V348.4 M412.0,346.2 V348.4 M431.9,346.2 V348.4 M451.7,346.2 V348.4 M471.6,346.2 V348.4 M491.4,346.2 V348.4 M511.3,346.2 V348.4 M531.1,346.2 V348.4" stroke="#111" stroke-width="1" fill="none"/>
<g font-family="Liberation Sans, sans-serif" font-weight="bold" font-size="7.2" fill="#111" stroke="#111" stroke-width="0.3"><text x="35.4" y="33.5" text-anchor="end" transform="translate(35.4 0) scale(0.92 1) translate(-35.4 0)">24</text><text x="35.4" y="65.0" text-anchor="end" transform="translate(35.4 0) scale(0.92 1) translate(-35.4 0)">21</text><text x="35.4" y="96.5" text-anchor="end" transform="translate(35.4 0) scale(0.92 1) translate(-35.4 0)">18</text><text x="35.4" y="128.0" text-anchor="end" transform="translate(35.4 0) scale(0.92 1) translate(-35.4 0)">15</text><text x="35.4" y="159.5" text-anchor="end" transform="translate(35.4 0) scale(0.92 1) translate(-35.4 0)">12</text><text x="35.4" y="191.1" text-anchor="end" transform="translate(35.4 0) scale(0.92 1) translate(-35.4 0)">9</text><text x="35.4" y="222.6" text-anchor="end" transform="translate(35.4 0) scale(0.92 1) translate(-35.4 0)">6</text><text x="35.4" y="254.1" text-anchor="end" transform="translate(35.4 0) scale(0.92 1) translate(-35.4 0)">3</text><text x="35.4" y="285.6" text-anchor="end" transform="translate(35.4 0) scale(0.92 1) translate(-35.4 0)">0</text><text x="35.4" y="317.1" text-anchor="end" transform="translate(35.4 0) scale(0.92 1) translate(-35.4 0)">−3</text><text x="35.4" y="348.6" text-anchor="end" transform="translate(35.4 0) scale(0.92 1) translate(-35.4 0)">−6</text><text x="39.3" y="355.4" text-anchor="middle" transform="translate(39.3 0) scale(0.87 1) translate(-39.3 0)">160W</text><text x="68.6" y="355.4" text-anchor="middle" transform="translate(68.6 0) scale(0.87 1) translate(-68.6 0)">150W</text><text x="97.9" y="355.4" text-anchor="middle" transform="translate(97.9 0) scale(0.87 1) translate(-97.9 0)">140W</text><text x="127.1" y="355.4" text-anchor="middle" transform="translate(127.1 0) scale(0.87 1) translate(-127.1 0)">130W</text><text x="156.4" y="355.4" text-anchor="middle" transform="translate(156.4 0) scale(0.87 1) translate(-156.4 0)">120W</text><text x="185.7" y="355.4" text-anchor="middle" transform="translate(185.7 0) scale(0.87 1) translate(-185.7 0)">110W</text><text x="215.0" y="355.4" text-anchor="middle" transform="translate(215.0 0) scale(0.87 1) translate(-215.0 0)">100W</text><text x="244.3" y="355.4" text-anchor="middle" transform="translate(244.3 0) scale(0.87 1) translate(-244.3 0)">90W</text><text x="273.5" y="355.4" text-anchor="middle" transform="translate(273.5 0) scale(0.87 1) translate(-273.5 0)">80W</text><text x="329.6" y="33.2" text-anchor="end" transform="translate(329.6 0) scale(0.9 1) translate(-329.6 0)">20N</text><text x="329.6" y="72.6" text-anchor="end" transform="translate(329.6 0) scale(0.9 1) translate(-329.6 0)">15N</text><text x="329.6" y="112.1" text-anchor="end" transform="translate(329.6 0) scale(0.9 1) translate(-329.6 0)">10N</text><text x="329.6" y="151.5" text-anchor="end" transform="translate(329.6 0) scale(0.9 1) translate(-329.6 0)">5N</text><text x="329.6" y="191.0" text-anchor="end" transform="translate(329.6 0) scale(0.9 1) translate(-329.6 0)">EQ</text><text x="329.6" y="230.4" text-anchor="end" transform="translate(329.6 0) scale(0.9 1) translate(-329.6 0)">5S</text><text x="329.6" y="269.9" text-anchor="end" transform="translate(329.6 0) scale(0.9 1) translate(-329.6 0)">10S</text><text x="329.6" y="309.4" text-anchor="end" transform="translate(329.6 0) scale(0.9 1) translate(-329.6 0)">15S</text><text x="329.6" y="348.8" text-anchor="end" transform="translate(329.6 0) scale(0.9 1) translate(-329.6 0)">20S</text><text x="332.6" y="357" text-anchor="middle" transform="translate(332.6 0) scale(0.92 1) translate(-332.6 0)">−6</text><text x="352.5" y="357" text-anchor="middle" transform="translate(352.5 0) scale(0.92 1) translate(-352.5 0)">−3</text><text x="372.3" y="357" text-anchor="middle" transform="translate(372.3 0) scale(0.92 1) translate(-372.3 0)">0</text><text x="392.2" y="357" text-anchor="middle" transform="translate(392.2 0) scale(0.92 1) translate(-392.2 0)">3</text><text x="412.0" y="357" text-anchor="middle" transform="translate(412.0 0) scale(0.92 1) translate(-412.0 0)">6</text><text x="431.9" y="357" text-anchor="middle" transform="translate(431.9 0) scale(0.92 1) translate(-431.9 0)">9</text><text x="451.7" y="357" text-anchor="middle" transform="translate(451.7 0) scale(0.92 1) translate(-451.7 0)">12</text><text x="471.6" y="357" text-anchor="middle" transform="translate(471.6 0) scale(0.92 1) translate(-471.6 0)">15</text><text x="491.4" y="357" text-anchor="middle" transform="translate(491.4 0) scale(0.92 1) translate(-491.4 0)">18</text><text x="511.3" y="357" text-anchor="middle" transform="translate(511.3 0) scale(0.92 1) translate(-511.3 0)">21</text><text x="531.1" y="357" text-anchor="middle" transform="translate(531.1 0) scale(0.92 1) translate(-531.1 0)">24</text></g>
<text x="22" y="15.6" font-family="Liberation Sans, sans-serif" font-weight="bold" font-size="15" fill="#000">A</text>
<text x="312.6" y="15.5" font-family="Liberation Sans, sans-serif" font-weight="bold" font-size="15" fill="#000">B</text>
<text font-family="Liberation Sans, sans-serif" font-style="italic" font-size="10.1" fill="#222" stroke="#222" stroke-width="0.2" text-anchor="middle" transform="translate(14.6 143) rotate(-90)">Atl3 leads in time</text>
<text font-family="Liberation Sans, sans-serif" font-style="italic" font-size="9.7" fill="#222" stroke="#222" stroke-width="0.2" text-anchor="middle" transform="translate(9.4 318) rotate(-90)">Niño3 leads</text>
<text font-family="Liberation Sans, sans-serif" font-style="italic" font-size="9.7" fill="#222" stroke="#222" stroke-width="0.2" text-anchor="middle" transform="translate(22.6 316) rotate(-90)">in time</text>
<path d="M3.4,283 H25.2" stroke="#333" stroke-width="0.9"/>
<text font-family="Liberation Sans, sans-serif" font-style="italic" font-size="9.7" fill="#222" stroke="#222" stroke-width="0.2" text-anchor="middle" x="341.7" y="373.8">Niño3 leads</text>
<text font-family="Liberation Sans, sans-serif" font-style="italic" font-size="9.7" fill="#222" stroke="#222" stroke-width="0.2" text-anchor="middle" x="341.7" y="386">in time</text>
<path d="M372.3,362.6 V381.7" stroke="#333" stroke-width="0.9"/>
<text font-family="Liberation Sans, sans-serif" font-style="italic" font-size="9.7" fill="#222" stroke="#222" stroke-width="0.2" text-anchor="middle" x="459" y="377">Atl3 leads in time</text>
<text font-family="Liberation Sans, sans-serif" font-weight="bold" font-style="italic" font-size="9.4" fill="#c08e0e" x="217.3" y="90.5">b30+</text>
<text font-family="Liberation Sans, sans-serif" font-weight="bold" font-style="italic" font-size="9.4" fill="#cc1d1d" x="67.9" y="139">b10+</text>
<text font-family="Liberation Sans, sans-serif" font-weight="bold" font-style="italic" font-size="9.4" fill="#8eaee6" x="70.5" y="198.2">sst-</text>
<text font-family="Liberation Sans, sans-serif" font-weight="bold" font-style="italic" font-size="9.4" fill="#2f6fc0" x="43.4" y="251.4">tcb+</text>
<text font-family="Liberation Sans, sans-serif" font-weight="bold" font-style="italic" font-size="9.4" fill="#111" x="83.6" y="324.6">tsb+</text>
<text font-family="Liberation Sans, sans-serif" font-weight="bold" font-style="italic" font-size="9.4" fill="#2aa040" x="129.2" y="326.8">lphy+</text>
<defs><linearGradient id="cb" x1="0" y1="0" x2="0" y2="1"><stop offset="0" stop-color="#79b8f5"/><stop offset="0.33" stop-color="#6aaef3"/><stop offset="0.34" stop-color="#4fa0ef"/><stop offset="1" stop-color="#3f92ea"/></linearGradient></defs>
<rect x="536.6" y="41.6" width="9" height="294.6" rx="4.5" fill="url(#cb)" stroke="#2a3340" stroke-width="0.8"/>
<path d="M536.6,139.8 H545.6 M536.6,238 H545.6" stroke="#1f4f8f" stroke-width="1.1"/>
<text x="548.1" y="142.6" font-family="Liberation Sans, sans-serif" font-weight="bold" font-size="7.6" fill="#2a2a2a">−0.4</text>
<text x="548.1" y="240.8" font-family="Liberation Sans, sans-serif" font-weight="bold" font-size="7.6" fill="#2a2a2a">−0.5</text>
</svg>
</body></html>
